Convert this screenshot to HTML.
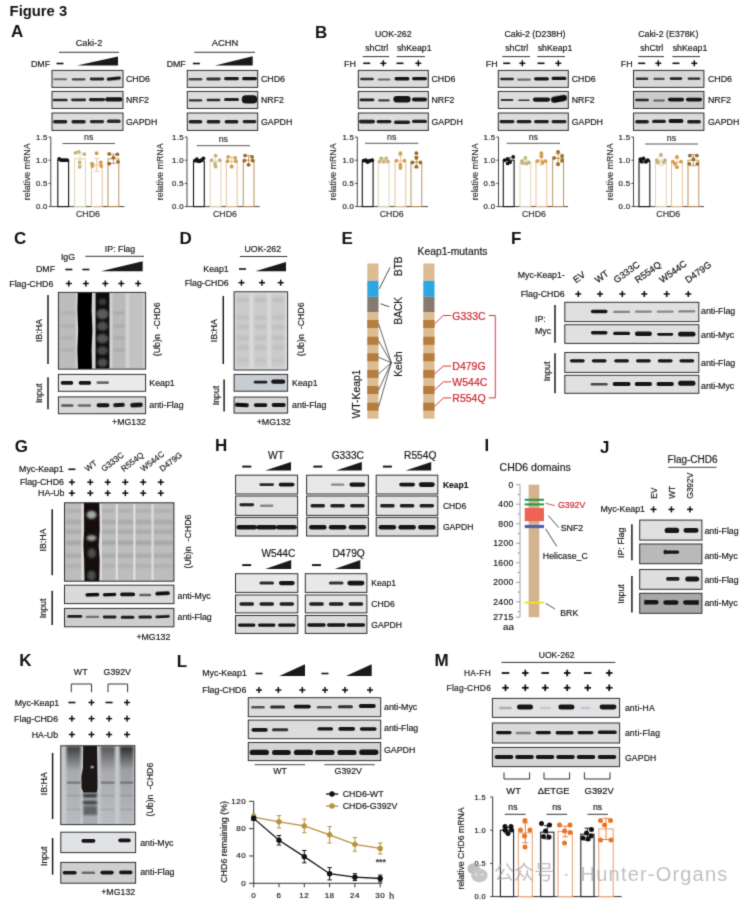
<!DOCTYPE html>
<html><head><meta charset="utf-8"><style>
html,body{margin:0;padding:0;background:#fff;}
body{width:750px;height:903px;overflow:hidden;}
svg{display:block;font-family:"Liberation Sans", Arial, sans-serif;}
</style></head><body>
<svg width="750" height="903" viewBox="0 0 750 903">
<defs>
<filter id="b1" x="-50%" y="-100%" width="200%" height="300%"><feGaussianBlur stdDeviation="0.7"/></filter>
<filter id="b2" x="-50%" y="-50%" width="200%" height="200%"><feGaussianBlur stdDeviation="1.3"/></filter>
<filter id="b3" x="-50%" y="-50%" width="200%" height="200%"><feGaussianBlur stdDeviation="2.2"/></filter>
<filter id="gb" x="0" y="0" width="750" height="903" filterUnits="userSpaceOnUse" color-interpolation-filters="sRGB"><feConvolveMatrix order="3" kernelMatrix="0.0192 0.1001 0.0192 0.1001 0.5228 0.1001 0.0192 0.1001 0.0192" divisor="1" edgeMode="duplicate"/></filter>
</defs>
<g filter="url(#gb)">
<rect width="750" height="903" fill="#fff"/>
<text x="9.6" y="16.4" font-size="14.8" font-weight="bold" fill="#111">Figure 3</text>
<text x="11.10" y="37.40" font-size="17" font-weight="bold" fill="#111">A</text>
<text x="315.10" y="38.10" font-size="17" font-weight="bold" fill="#111">B</text>
<text x="89.00" y="42.60" font-size="9.2" text-anchor="middle" dominant-baseline="central" fill="#181818" stroke="#181818" stroke-width="0.18">Caki-2</text>
<line x1="59.00" y1="52.30" x2="119.00" y2="52.30" stroke="#333" stroke-width="1"/>
<text x="31.00" y="63.50" font-size="8.8" text-anchor="start" dominant-baseline="central" fill="#181818" stroke="#181818" stroke-width="0.18">DMF</text>
<rect x="56.50" y="62.70" width="7.00" height="1.60" fill="#111"/>
<polygon points="77.00,65.60 118.00,65.60 118.00,56.60" fill="#1a1a1a"/>
<rect x="52.00" y="70.40" width="71.00" height="17.00" fill="#dcdcdc"/>
<g clip-path="none">
<rect x="53.30" y="78.30" width="13.80" height="2.00" rx="1.00" fill="#161616" opacity="0.55" filter="url(#b1)"/>
<rect x="71.70" y="78.15" width="13.80" height="2.30" rx="1.15" fill="#161616" opacity="0.75" filter="url(#b1)"/>
<rect x="89.81" y="77.60" width="14.37" height="2.80" rx="1.40" fill="#161616" opacity="0.90" filter="url(#b1)"/>
<rect x="106.61" y="77.00" width="14.37" height="3.20" rx="1.60" fill="#111" opacity="0.95" filter="url(#b1)" transform="rotate(-6 113.8 78.6)"/>
</g>
<rect x="52.00" y="70.40" width="71.00" height="17.00" fill="none" stroke="#2e2e2e" stroke-width="1"/>
<text x="126.00" y="78.90" font-size="8.8" text-anchor="start" dominant-baseline="central" fill="#181818" stroke="#181818" stroke-width="0.18">CHD6</text>
<rect x="52.00" y="91.40" width="71.00" height="17.10" fill="#dcdcdc"/>
<g clip-path="none">
<rect x="52.73" y="98.70" width="14.95" height="2.60" rx="1.30" fill="#161616" opacity="0.90" filter="url(#b1)"/>
<rect x="71.12" y="98.40" width="14.95" height="2.80" rx="1.40" fill="#161616" opacity="0.90" filter="url(#b1)"/>
<rect x="88.95" y="97.90" width="16.10" height="3.40" rx="1.70" fill="#161616" opacity="0.95" filter="url(#b1)"/>
<rect x="105.17" y="97.30" width="17.25" height="4.20" rx="2.10" fill="#161616" opacity="1.00" filter="url(#b1)"/>
</g>
<rect x="52.00" y="91.40" width="71.00" height="17.10" fill="none" stroke="#2e2e2e" stroke-width="1"/>
<text x="126.00" y="99.95" font-size="8.8" text-anchor="start" dominant-baseline="central" fill="#181818" stroke="#181818" stroke-width="0.18">NRF2</text>
<rect x="52.00" y="113.00" width="71.00" height="17.40" fill="#dcdcdc"/>
<g clip-path="none">
<rect x="53.01" y="120.00" width="14.37" height="3.60" rx="1.80" fill="#161616" opacity="0.95" filter="url(#b1)"/>
<rect x="71.41" y="120.00" width="14.37" height="3.60" rx="1.80" fill="#161616" opacity="0.95" filter="url(#b1)"/>
<rect x="89.81" y="119.90" width="14.37" height="3.40" rx="1.70" fill="#161616" opacity="0.90" filter="url(#b1)"/>
<rect x="106.90" y="119.60" width="13.80" height="3.40" rx="1.70" fill="#161616" opacity="0.90" filter="url(#b1)"/>
</g>
<rect x="52.00" y="113.00" width="71.00" height="17.40" fill="none" stroke="#2e2e2e" stroke-width="1"/>
<text x="126.00" y="121.70" font-size="8.8" text-anchor="start" dominant-baseline="central" fill="#181818" stroke="#181818" stroke-width="0.18">GAPDH</text>
<text x="225.00" y="42.60" font-size="9.4" text-anchor="middle" dominant-baseline="central" fill="#181818" stroke="#181818" stroke-width="0.18">ACHN</text>
<line x1="194.30" y1="52.30" x2="255.00" y2="52.30" stroke="#333" stroke-width="1"/>
<text x="166.70" y="63.50" font-size="8.8" text-anchor="start" dominant-baseline="central" fill="#181818" stroke="#181818" stroke-width="0.18">DMF</text>
<rect x="192.90" y="62.70" width="7.00" height="1.60" fill="#111"/>
<polygon points="215.00,65.60 252.70,65.60 252.70,56.20" fill="#1a1a1a"/>
<rect x="187.30" y="70.40" width="70.40" height="17.00" fill="#dcdcdc"/>
<g clip-path="none">
<rect x="188.60" y="78.10" width="13.80" height="2.40" rx="1.20" fill="#161616" opacity="0.75" filter="url(#b1)"/>
<rect x="206.31" y="77.60" width="14.37" height="2.80" rx="1.40" fill="#161616" opacity="0.85" filter="url(#b1)"/>
<rect x="224.03" y="77.00" width="14.95" height="3.20" rx="1.60" fill="#161616" opacity="0.95" filter="url(#b1)"/>
<rect x="242.03" y="76.90" width="14.95" height="3.40" rx="1.70" fill="#161616" opacity="1.00" filter="url(#b1)"/>
</g>
<rect x="187.30" y="70.40" width="70.40" height="17.00" fill="none" stroke="#2e2e2e" stroke-width="1"/>
<text x="261.00" y="78.90" font-size="8.8" text-anchor="start" dominant-baseline="central" fill="#181818" stroke="#181818" stroke-width="0.18">CHD6</text>
<rect x="187.30" y="91.40" width="70.40" height="17.10" fill="#dcdcdc"/>
<g clip-path="none">
<rect x="188.60" y="99.20" width="13.80" height="2.20" rx="1.10" fill="#161616" opacity="0.85" filter="url(#b1)"/>
<rect x="206.60" y="98.70" width="13.80" height="2.60" rx="1.30" fill="#161616" opacity="0.90" filter="url(#b1)"/>
<rect x="224.03" y="98.10" width="14.95" height="3.00" rx="1.50" fill="#161616" opacity="0.95" filter="url(#b1)"/>
<rect x="241.74" y="95.30" width="15.52" height="8.20" rx="4.10" fill="#161616" opacity="1.00" filter="url(#b1)"/>
</g>
<rect x="187.30" y="91.40" width="70.40" height="17.10" fill="none" stroke="#2e2e2e" stroke-width="1"/>
<text x="261.00" y="99.95" font-size="8.8" text-anchor="start" dominant-baseline="central" fill="#181818" stroke="#181818" stroke-width="0.18">NRF2</text>
<rect x="187.30" y="113.00" width="70.40" height="17.40" fill="#dcdcdc"/>
<g clip-path="none">
<rect x="188.60" y="120.00" width="13.80" height="3.60" rx="1.80" fill="#161616" opacity="0.95" filter="url(#b1)"/>
<rect x="206.60" y="120.10" width="13.80" height="3.40" rx="1.70" fill="#161616" opacity="0.95" filter="url(#b1)"/>
<rect x="224.60" y="120.10" width="13.80" height="3.40" rx="1.70" fill="#161616" opacity="0.95" filter="url(#b1)"/>
<rect x="242.60" y="119.90" width="13.80" height="3.40" rx="1.70" fill="#161616" opacity="0.95" filter="url(#b1)"/>
</g>
<rect x="187.30" y="113.00" width="70.40" height="17.40" fill="none" stroke="#2e2e2e" stroke-width="1"/>
<text x="261.00" y="121.70" font-size="8.8" text-anchor="start" dominant-baseline="central" fill="#181818" stroke="#181818" stroke-width="0.18">GAPDH</text>
<text x="393.30" y="33.50" font-size="8.8" text-anchor="middle" dominant-baseline="central" fill="#181818" stroke="#181818" stroke-width="0.18">UOK-262</text>
<text x="376.70" y="47.50" font-size="8.8" text-anchor="middle" dominant-baseline="central" fill="#181818" stroke="#181818" stroke-width="0.18">shCtrl</text>
<text x="414.30" y="47.50" font-size="8.8" text-anchor="middle" dominant-baseline="central" fill="#181818" stroke="#181818" stroke-width="0.18">shKeap1</text>
<line x1="362.70" y1="56.60" x2="389.30" y2="56.60" stroke="#333" stroke-width="1"/>
<line x1="396.70" y1="56.60" x2="425.00" y2="56.60" stroke="#333" stroke-width="1"/>
<text x="344.10" y="63.60" font-size="8.9" text-anchor="start" dominant-baseline="central" fill="#1a1a1a" stroke="#1a1a1a" stroke-width="0.18">FH</text>
<rect x="363.20" y="62.50" width="7.00" height="1.60" fill="#111"/>
<rect x="380.30" y="62.55" width="6.00" height="1.50" fill="#111"/>
<rect x="382.55" y="60.30" width="1.50" height="6.00" fill="#111"/>
<rect x="396.50" y="62.50" width="7.00" height="1.60" fill="#111"/>
<rect x="415.30" y="62.55" width="6.00" height="1.50" fill="#111"/>
<rect x="417.55" y="60.30" width="1.50" height="6.00" fill="#111"/>
<rect x="358.30" y="70.40" width="70.00" height="17.00" fill="#dcdcdc"/>
<g clip-path="none">
<rect x="360.10" y="77.70" width="13.80" height="2.60" rx="1.30" fill="#161616" opacity="0.85" filter="url(#b1)"/>
<rect x="377.68" y="78.60" width="12.65" height="2.00" rx="1.00" fill="#161616" opacity="0.60" filter="url(#b1)"/>
<rect x="394.52" y="77.10" width="14.95" height="3.40" rx="1.70" fill="#161616" opacity="1.00" filter="url(#b1)"/>
<rect x="412.02" y="77.00" width="14.95" height="3.20" rx="1.60" fill="#161616" opacity="1.00" filter="url(#b1)"/>
</g>
<rect x="358.30" y="70.40" width="70.00" height="17.00" fill="none" stroke="#2e2e2e" stroke-width="1"/>
<text x="431.50" y="78.90" font-size="8.8" text-anchor="start" dominant-baseline="central" fill="#181818" stroke="#181818" stroke-width="0.18">CHD6</text>
<rect x="358.30" y="91.40" width="70.00" height="17.10" fill="#dcdcdc"/>
<g clip-path="none">
<rect x="359.52" y="98.40" width="14.95" height="2.80" rx="1.40" fill="#161616" opacity="0.95" filter="url(#b1)"/>
<rect x="378.25" y="99.30" width="11.50" height="2.20" rx="1.10" fill="#161616" opacity="0.80" filter="url(#b1)"/>
<rect x="393.38" y="95.95" width="17.25" height="6.50" rx="3.25" fill="#161616" opacity="1.00" filter="url(#b1)"/>
<rect x="412.02" y="97.60" width="14.95" height="4.00" rx="2.00" fill="#161616" opacity="1.00" filter="url(#b1)"/>
</g>
<rect x="358.30" y="91.40" width="70.00" height="17.10" fill="none" stroke="#2e2e2e" stroke-width="1"/>
<text x="431.50" y="99.95" font-size="8.8" text-anchor="start" dominant-baseline="central" fill="#181818" stroke="#181818" stroke-width="0.18">NRF2</text>
<rect x="358.30" y="113.00" width="70.00" height="17.40" fill="#dcdcdc"/>
<g clip-path="none">
<rect x="358.95" y="119.80" width="16.10" height="3.60" rx="1.80" fill="#161616" opacity="0.95" filter="url(#b1)"/>
<rect x="376.52" y="119.90" width="14.95" height="3.40" rx="1.70" fill="#161616" opacity="0.95" filter="url(#b1)"/>
<rect x="393.95" y="120.40" width="16.10" height="3.60" rx="1.80" fill="#161616" opacity="0.95" filter="url(#b1)"/>
<rect x="412.02" y="119.80" width="14.95" height="3.20" rx="1.60" fill="#161616" opacity="0.95" filter="url(#b1)"/>
</g>
<rect x="358.30" y="113.00" width="70.00" height="17.40" fill="none" stroke="#2e2e2e" stroke-width="1"/>
<text x="431.50" y="121.70" font-size="8.8" text-anchor="start" dominant-baseline="central" fill="#181818" stroke="#181818" stroke-width="0.18">GAPDH</text>
<text x="535.00" y="33.50" font-size="8.8" text-anchor="middle" dominant-baseline="central" fill="#181818" stroke="#181818" stroke-width="0.18">Caki-2 (D238H)</text>
<text x="516.70" y="47.50" font-size="8.8" text-anchor="middle" dominant-baseline="central" fill="#181818" stroke="#181818" stroke-width="0.18">shCtrl</text>
<text x="555.00" y="47.50" font-size="8.8" text-anchor="middle" dominant-baseline="central" fill="#181818" stroke="#181818" stroke-width="0.18">shKeap1</text>
<line x1="502.30" y1="56.60" x2="530.00" y2="56.60" stroke="#333" stroke-width="1"/>
<line x1="537.30" y1="56.60" x2="565.00" y2="56.60" stroke="#333" stroke-width="1"/>
<text x="485.80" y="63.60" font-size="8.9" text-anchor="start" dominant-baseline="central" fill="#1a1a1a" stroke="#1a1a1a" stroke-width="0.18">FH</text>
<rect x="503.20" y="62.50" width="7.00" height="1.60" fill="#111"/>
<rect x="519.30" y="62.55" width="6.00" height="1.50" fill="#111"/>
<rect x="521.55" y="60.30" width="1.50" height="6.00" fill="#111"/>
<rect x="537.50" y="62.50" width="7.00" height="1.60" fill="#111"/>
<rect x="555.30" y="62.55" width="6.00" height="1.50" fill="#111"/>
<rect x="557.55" y="60.30" width="1.50" height="6.00" fill="#111"/>
<rect x="498.30" y="70.40" width="70.00" height="17.00" fill="#dcdcdc"/>
<g clip-path="none">
<rect x="500.10" y="77.70" width="13.80" height="2.60" rx="1.30" fill="#161616" opacity="0.90" filter="url(#b1)"/>
<rect x="517.10" y="78.50" width="13.80" height="2.20" rx="1.10" fill="#161616" opacity="0.55" filter="url(#b1)"/>
<rect x="534.02" y="77.20" width="14.95" height="3.20" rx="1.60" fill="#161616" opacity="1.00" filter="url(#b1)"/>
<rect x="551.52" y="76.80" width="14.95" height="3.20" rx="1.60" fill="#161616" opacity="1.00" filter="url(#b1)"/>
</g>
<rect x="498.30" y="70.40" width="70.00" height="17.00" fill="none" stroke="#2e2e2e" stroke-width="1"/>
<text x="571.70" y="78.90" font-size="8.8" text-anchor="start" dominant-baseline="central" fill="#181818" stroke="#181818" stroke-width="0.18">CHD6</text>
<rect x="498.30" y="91.40" width="70.00" height="17.10" fill="#dcdcdc"/>
<g clip-path="none">
<rect x="500.68" y="99.10" width="12.65" height="1.80" rx="0.90" fill="#161616" opacity="0.85" filter="url(#b1)"/>
<rect x="518.25" y="99.40" width="11.50" height="1.60" rx="0.80" fill="#161616" opacity="0.85" filter="url(#b1)"/>
<rect x="532.88" y="97.50" width="17.25" height="4.20" rx="2.10" fill="#161616" opacity="1.00" filter="url(#b1)"/>
<rect x="550.95" y="95.70" width="16.10" height="6.20" rx="3.10" fill="#111" opacity="1.00" filter="url(#b1)" transform="rotate(-10 559 98.8)"/>
</g>
<rect x="498.30" y="91.40" width="70.00" height="17.10" fill="none" stroke="#2e2e2e" stroke-width="1"/>
<text x="571.70" y="99.95" font-size="8.8" text-anchor="start" dominant-baseline="central" fill="#181818" stroke="#181818" stroke-width="0.18">NRF2</text>
<rect x="498.30" y="113.00" width="70.00" height="17.40" fill="#dcdcdc"/>
<g clip-path="none">
<rect x="499.52" y="119.90" width="14.95" height="3.40" rx="1.70" fill="#161616" opacity="0.95" filter="url(#b1)"/>
<rect x="516.52" y="120.00" width="14.95" height="3.20" rx="1.60" fill="#161616" opacity="0.95" filter="url(#b1)"/>
<rect x="534.02" y="120.00" width="14.95" height="3.20" rx="1.60" fill="#161616" opacity="0.95" filter="url(#b1)"/>
<rect x="551.52" y="120.00" width="14.95" height="3.20" rx="1.60" fill="#161616" opacity="0.95" filter="url(#b1)"/>
</g>
<rect x="498.30" y="113.00" width="70.00" height="17.40" fill="none" stroke="#2e2e2e" stroke-width="1"/>
<text x="571.70" y="121.70" font-size="8.8" text-anchor="start" dominant-baseline="central" fill="#181818" stroke="#181818" stroke-width="0.18">GAPDH</text>
<text x="668.30" y="33.50" font-size="8.8" text-anchor="middle" dominant-baseline="central" fill="#181818" stroke="#181818" stroke-width="0.18">Caki-2 (E378K)</text>
<text x="651.70" y="47.50" font-size="8.8" text-anchor="middle" dominant-baseline="central" fill="#181818" stroke="#181818" stroke-width="0.18">shCtrl</text>
<text x="690.00" y="47.50" font-size="8.8" text-anchor="middle" dominant-baseline="central" fill="#181818" stroke="#181818" stroke-width="0.18">shKeap1</text>
<line x1="638.30" y1="56.60" x2="664.00" y2="56.60" stroke="#333" stroke-width="1"/>
<line x1="672.30" y1="56.60" x2="700.00" y2="56.60" stroke="#333" stroke-width="1"/>
<text x="620.80" y="63.60" font-size="8.9" text-anchor="start" dominant-baseline="central" fill="#1a1a1a" stroke="#1a1a1a" stroke-width="0.18">FH</text>
<rect x="638.20" y="62.50" width="7.00" height="1.60" fill="#111"/>
<rect x="655.30" y="62.55" width="6.00" height="1.50" fill="#111"/>
<rect x="657.55" y="60.30" width="1.50" height="6.00" fill="#111"/>
<rect x="672.50" y="62.50" width="7.00" height="1.60" fill="#111"/>
<rect x="691.30" y="62.55" width="6.00" height="1.50" fill="#111"/>
<rect x="693.55" y="60.30" width="1.50" height="6.00" fill="#111"/>
<rect x="633.50" y="70.40" width="70.40" height="17.00" fill="#d8d8d8"/>
<g clip-path="none">
<rect x="635.67" y="77.50" width="12.65" height="2.60" rx="1.30" fill="#161616" opacity="0.85" filter="url(#b1)"/>
<rect x="653.25" y="77.70" width="11.50" height="2.20" rx="1.10" fill="#161616" opacity="0.70" filter="url(#b1)"/>
<rect x="669.67" y="77.20" width="12.65" height="2.80" rx="1.40" fill="#161616" opacity="0.90" filter="url(#b1)"/>
<rect x="687.67" y="77.40" width="12.65" height="2.40" rx="1.20" fill="#161616" opacity="0.90" filter="url(#b1)"/>
</g>
<rect x="633.50" y="70.40" width="70.40" height="17.00" fill="none" stroke="#2e2e2e" stroke-width="1"/>
<text x="708.00" y="78.90" font-size="8.8" text-anchor="start" dominant-baseline="central" fill="#181818" stroke="#181818" stroke-width="0.18">CHD6</text>
<rect x="633.50" y="91.40" width="70.40" height="17.10" fill="#cbcbcb"/>
<g clip-path="none">
<rect x="635.10" y="98.70" width="13.80" height="2.60" rx="1.30" fill="#161616" opacity="0.90" filter="url(#b1)"/>
<rect x="653.25" y="99.40" width="11.50" height="2.00" rx="1.00" fill="#161616" opacity="0.60" filter="url(#b1)"/>
<rect x="667.95" y="97.80" width="16.10" height="3.60" rx="1.80" fill="#161616" opacity="1.00" filter="url(#b1)"/>
<rect x="685.95" y="97.80" width="16.10" height="3.60" rx="1.80" fill="#161616" opacity="1.00" filter="url(#b1)"/>
</g>
<rect x="633.50" y="91.40" width="70.40" height="17.10" fill="none" stroke="#2e2e2e" stroke-width="1"/>
<text x="708.00" y="99.95" font-size="8.8" text-anchor="start" dominant-baseline="central" fill="#181818" stroke="#181818" stroke-width="0.18">NRF2</text>
<rect x="633.50" y="113.00" width="70.40" height="17.40" fill="#dadada"/>
<g clip-path="none">
<rect x="635.10" y="120.10" width="13.80" height="3.40" rx="1.70" fill="#161616" opacity="0.95" filter="url(#b1)"/>
<rect x="652.10" y="119.70" width="13.80" height="3.40" rx="1.70" fill="#161616" opacity="0.95" filter="url(#b1)"/>
<rect x="668.52" y="119.00" width="14.95" height="4.00" rx="2.00" fill="#161616" opacity="1.00" filter="url(#b1)"/>
<rect x="687.10" y="120.10" width="13.80" height="3.40" rx="1.70" fill="#161616" opacity="0.95" filter="url(#b1)"/>
</g>
<rect x="633.50" y="113.00" width="70.40" height="17.40" fill="none" stroke="#2e2e2e" stroke-width="1"/>
<text x="708.00" y="121.70" font-size="8.8" text-anchor="start" dominant-baseline="central" fill="#181818" stroke="#181818" stroke-width="0.18">GAPDH</text>
<line x1="50.80" y1="137.00" x2="50.80" y2="206.60" stroke="#333" stroke-width="0.9"/>
<line x1="50.80" y1="206.60" x2="124.40" y2="206.60" stroke="#333" stroke-width="0.9"/>
<line x1="48.60" y1="137.00" x2="50.80" y2="137.00" stroke="#333" stroke-width="0.9"/>
<text x="47.80" y="137.00" font-size="7.8" text-anchor="end" dominant-baseline="central" fill="#1e1e1e" stroke="#1e1e1e" stroke-width="0.18" letter-spacing="0.35">1.5</text>
<line x1="48.60" y1="160.20" x2="50.80" y2="160.20" stroke="#333" stroke-width="0.9"/>
<text x="47.80" y="160.20" font-size="7.8" text-anchor="end" dominant-baseline="central" fill="#1e1e1e" stroke="#1e1e1e" stroke-width="0.18" letter-spacing="0.35">1.0</text>
<line x1="48.60" y1="183.40" x2="50.80" y2="183.40" stroke="#333" stroke-width="0.9"/>
<text x="47.80" y="183.40" font-size="7.8" text-anchor="end" dominant-baseline="central" fill="#1e1e1e" stroke="#1e1e1e" stroke-width="0.18" letter-spacing="0.35">0.5</text>
<line x1="48.60" y1="206.60" x2="50.80" y2="206.60" stroke="#333" stroke-width="0.9"/>
<text x="47.80" y="206.60" font-size="7.8" text-anchor="end" dominant-baseline="central" fill="#1e1e1e" stroke="#1e1e1e" stroke-width="0.18" letter-spacing="0.35">0.0</text>
<text x="26.60" y="171.80" font-size="8.8" text-anchor="middle" dominant-baseline="central" fill="#333" stroke="#333" stroke-width="0.18" transform="rotate(-90 26.6 171.8)">relative mRNA</text>
<rect x="57.80" y="160.20" width="10.80" height="46.40" fill="#fff" stroke="#111" stroke-width="1.1"/>
<line x1="63.20" y1="159.27" x2="63.20" y2="161.13" stroke="#111" stroke-width="0.8"/>
<line x1="60.70" y1="159.27" x2="65.70" y2="159.27" stroke="#111" stroke-width="0.8"/>
<line x1="60.70" y1="161.13" x2="65.70" y2="161.13" stroke="#111" stroke-width="0.8"/>
<circle cx="59.20" cy="158.81" r="1.9" fill="#111"/>
<circle cx="61.20" cy="160.20" r="1.9" fill="#111"/>
<circle cx="63.20" cy="160.20" r="1.9" fill="#111"/>
<circle cx="65.20" cy="160.20" r="1.9" fill="#111"/>
<circle cx="67.20" cy="160.20" r="1.9" fill="#111"/>
<rect x="74.60" y="158.81" width="10.80" height="47.79" fill="#fff" stroke="#d9d1ae" stroke-width="0.9"/>
<line x1="80.00" y1="152.78" x2="80.00" y2="164.84" stroke="#d9d1ae" stroke-width="0.8"/>
<line x1="77.50" y1="152.78" x2="82.50" y2="152.78" stroke="#d9d1ae" stroke-width="0.8"/>
<line x1="77.50" y1="164.84" x2="82.50" y2="164.84" stroke="#d9d1ae" stroke-width="0.8"/>
<circle cx="75.40" cy="152.78" r="1.9" fill="#c2b47c"/>
<circle cx="78.70" cy="151.85" r="1.9" fill="#c2b47c"/>
<circle cx="84.30" cy="154.17" r="1.9" fill="#c2b47c"/>
<circle cx="79.60" cy="162.29" r="1.9" fill="#c2b47c"/>
<circle cx="79.60" cy="166.88" r="1.9" fill="#c2b47c"/>
<rect x="91.40" y="164.84" width="10.80" height="41.76" fill="#fff" stroke="#e2b98a" stroke-width="0.9"/>
<line x1="96.80" y1="158.34" x2="96.80" y2="171.34" stroke="#e2b98a" stroke-width="0.8"/>
<line x1="94.30" y1="158.34" x2="99.30" y2="158.34" stroke="#e2b98a" stroke-width="0.8"/>
<line x1="94.30" y1="171.34" x2="99.30" y2="171.34" stroke="#e2b98a" stroke-width="0.8"/>
<circle cx="96.60" cy="153.24" r="1.9" fill="#d59c4c"/>
<circle cx="92.00" cy="163.68" r="1.9" fill="#d59c4c"/>
<circle cx="100.80" cy="162.29" r="1.9" fill="#d59c4c"/>
<circle cx="92.40" cy="166.00" r="1.9" fill="#d59c4c"/>
<circle cx="101.20" cy="166.00" r="1.9" fill="#d59c4c"/>
<rect x="108.00" y="158.81" width="10.80" height="47.79" fill="#fff" stroke="#b08850" stroke-width="0.9"/>
<line x1="113.40" y1="154.17" x2="113.40" y2="163.45" stroke="#b08850" stroke-width="0.8"/>
<line x1="110.90" y1="154.17" x2="115.90" y2="154.17" stroke="#b08850" stroke-width="0.8"/>
<line x1="110.90" y1="163.45" x2="115.90" y2="163.45" stroke="#b08850" stroke-width="0.8"/>
<circle cx="109.20" cy="153.94" r="1.9" fill="#9c6a26"/>
<circle cx="117.40" cy="154.31" r="1.9" fill="#9c6a26"/>
<circle cx="113.40" cy="157.60" r="1.9" fill="#9c6a26"/>
<circle cx="109.20" cy="163.68" r="1.9" fill="#9c6a26"/>
<circle cx="118.00" cy="161.82" r="1.9" fill="#9c6a26"/>
<text x="88.75" y="137.00" font-size="8.8" text-anchor="middle" dominant-baseline="central" fill="#333" stroke="#333" stroke-width="0.18">ns</text>
<line x1="62.50" y1="143.50" x2="115.00" y2="143.50" stroke="#444" stroke-width="0.9"/>
<text x="88.00" y="214.00" font-size="8.8" text-anchor="middle" dominant-baseline="central" fill="#333" stroke="#333" stroke-width="0.18">CHD6</text>
<line x1="187.00" y1="137.00" x2="187.00" y2="206.60" stroke="#333" stroke-width="0.9"/>
<line x1="187.00" y1="206.60" x2="259.70" y2="206.60" stroke="#333" stroke-width="0.9"/>
<line x1="184.80" y1="137.00" x2="187.00" y2="137.00" stroke="#333" stroke-width="0.9"/>
<text x="184.00" y="137.00" font-size="7.8" text-anchor="end" dominant-baseline="central" fill="#1e1e1e" stroke="#1e1e1e" stroke-width="0.18" letter-spacing="0.35">1.5</text>
<line x1="184.80" y1="160.20" x2="187.00" y2="160.20" stroke="#333" stroke-width="0.9"/>
<text x="184.00" y="160.20" font-size="7.8" text-anchor="end" dominant-baseline="central" fill="#1e1e1e" stroke="#1e1e1e" stroke-width="0.18" letter-spacing="0.35">1.0</text>
<line x1="184.80" y1="183.40" x2="187.00" y2="183.40" stroke="#333" stroke-width="0.9"/>
<text x="184.00" y="183.40" font-size="7.8" text-anchor="end" dominant-baseline="central" fill="#1e1e1e" stroke="#1e1e1e" stroke-width="0.18" letter-spacing="0.35">0.5</text>
<line x1="184.80" y1="206.60" x2="187.00" y2="206.60" stroke="#333" stroke-width="0.9"/>
<text x="184.00" y="206.60" font-size="7.8" text-anchor="end" dominant-baseline="central" fill="#1e1e1e" stroke="#1e1e1e" stroke-width="0.18" letter-spacing="0.35">0.0</text>
<text x="160.00" y="171.80" font-size="8.8" text-anchor="middle" dominant-baseline="central" fill="#333" stroke="#333" stroke-width="0.18" transform="rotate(-90 160 171.8)">relative mRNA</text>
<rect x="193.50" y="161.13" width="10.80" height="45.47" fill="#fff" stroke="#111" stroke-width="1.1"/>
<line x1="198.90" y1="159.74" x2="198.90" y2="162.52" stroke="#111" stroke-width="0.8"/>
<line x1="196.40" y1="159.74" x2="201.40" y2="159.74" stroke="#111" stroke-width="0.8"/>
<line x1="196.40" y1="162.52" x2="201.40" y2="162.52" stroke="#111" stroke-width="0.8"/>
<circle cx="194.90" cy="160.66" r="1.9" fill="#111"/>
<circle cx="196.90" cy="159.27" r="1.9" fill="#111"/>
<circle cx="198.90" cy="161.13" r="1.9" fill="#111"/>
<circle cx="201.40" cy="160.20" r="1.9" fill="#111"/>
<circle cx="203.40" cy="158.34" r="1.9" fill="#111"/>
<rect x="210.20" y="161.59" width="10.80" height="45.01" fill="#fff" stroke="#d9d1ae" stroke-width="0.9"/>
<line x1="215.60" y1="156.95" x2="215.60" y2="166.23" stroke="#d9d1ae" stroke-width="0.8"/>
<line x1="213.10" y1="156.95" x2="218.10" y2="156.95" stroke="#d9d1ae" stroke-width="0.8"/>
<line x1="213.10" y1="166.23" x2="218.10" y2="166.23" stroke="#d9d1ae" stroke-width="0.8"/>
<circle cx="215.60" cy="155.56" r="1.9" fill="#c2b47c"/>
<circle cx="211.60" cy="160.20" r="1.9" fill="#c2b47c"/>
<circle cx="219.80" cy="160.20" r="1.9" fill="#c2b47c"/>
<circle cx="215.10" cy="163.91" r="1.9" fill="#c2b47c"/>
<circle cx="215.60" cy="166.70" r="1.9" fill="#c2b47c"/>
<rect x="226.30" y="161.59" width="10.80" height="45.01" fill="#fff" stroke="#e2b98a" stroke-width="0.9"/>
<line x1="231.70" y1="156.95" x2="231.70" y2="166.23" stroke="#e2b98a" stroke-width="0.8"/>
<line x1="229.20" y1="156.95" x2="234.20" y2="156.95" stroke="#e2b98a" stroke-width="0.8"/>
<line x1="229.20" y1="166.23" x2="234.20" y2="166.23" stroke="#e2b98a" stroke-width="0.8"/>
<circle cx="228.20" cy="156.95" r="1.9" fill="#d59c4c"/>
<circle cx="235.20" cy="157.88" r="1.9" fill="#d59c4c"/>
<circle cx="227.50" cy="161.13" r="1.9" fill="#d59c4c"/>
<circle cx="235.90" cy="161.13" r="1.9" fill="#d59c4c"/>
<circle cx="231.70" cy="166.70" r="1.9" fill="#d59c4c"/>
<rect x="243.20" y="160.20" width="10.80" height="46.40" fill="#fff" stroke="#b08850" stroke-width="0.9"/>
<line x1="248.60" y1="155.56" x2="248.60" y2="164.84" stroke="#b08850" stroke-width="0.8"/>
<line x1="246.10" y1="155.56" x2="251.10" y2="155.56" stroke="#b08850" stroke-width="0.8"/>
<line x1="246.10" y1="164.84" x2="251.10" y2="164.84" stroke="#b08850" stroke-width="0.8"/>
<circle cx="245.10" cy="155.56" r="1.9" fill="#9c6a26"/>
<circle cx="252.10" cy="156.95" r="1.9" fill="#9c6a26"/>
<circle cx="244.40" cy="160.66" r="1.9" fill="#9c6a26"/>
<circle cx="252.80" cy="160.66" r="1.9" fill="#9c6a26"/>
<circle cx="248.60" cy="164.84" r="1.9" fill="#9c6a26"/>
<text x="223.35" y="139.20" font-size="8.8" text-anchor="middle" dominant-baseline="central" fill="#333" stroke="#333" stroke-width="0.18">ns</text>
<line x1="196.70" y1="145.70" x2="250.00" y2="145.70" stroke="#444" stroke-width="0.9"/>
<text x="225.00" y="214.00" font-size="8.8" text-anchor="middle" dominant-baseline="central" fill="#333" stroke="#333" stroke-width="0.18">CHD6</text>
<line x1="357.30" y1="137.00" x2="357.30" y2="206.60" stroke="#333" stroke-width="0.9"/>
<line x1="357.30" y1="206.60" x2="428.00" y2="206.60" stroke="#333" stroke-width="0.9"/>
<line x1="355.10" y1="137.00" x2="357.30" y2="137.00" stroke="#333" stroke-width="0.9"/>
<text x="354.30" y="137.00" font-size="7.8" text-anchor="end" dominant-baseline="central" fill="#1e1e1e" stroke="#1e1e1e" stroke-width="0.18" letter-spacing="0.35">1.5</text>
<line x1="355.10" y1="160.20" x2="357.30" y2="160.20" stroke="#333" stroke-width="0.9"/>
<text x="354.30" y="160.20" font-size="7.8" text-anchor="end" dominant-baseline="central" fill="#1e1e1e" stroke="#1e1e1e" stroke-width="0.18" letter-spacing="0.35">1.0</text>
<line x1="355.10" y1="183.40" x2="357.30" y2="183.40" stroke="#333" stroke-width="0.9"/>
<text x="354.30" y="183.40" font-size="7.8" text-anchor="end" dominant-baseline="central" fill="#1e1e1e" stroke="#1e1e1e" stroke-width="0.18" letter-spacing="0.35">0.5</text>
<line x1="355.10" y1="206.60" x2="357.30" y2="206.60" stroke="#333" stroke-width="0.9"/>
<text x="354.30" y="206.60" font-size="7.8" text-anchor="end" dominant-baseline="central" fill="#1e1e1e" stroke="#1e1e1e" stroke-width="0.18" letter-spacing="0.35">0.0</text>
<text x="333.00" y="171.80" font-size="8.8" text-anchor="middle" dominant-baseline="central" fill="#333" stroke="#333" stroke-width="0.18" transform="rotate(-90 333 171.8)">relative mRNA</text>
<rect x="362.30" y="161.13" width="10.80" height="45.47" fill="#fff" stroke="#111" stroke-width="1.1"/>
<line x1="367.70" y1="159.74" x2="367.70" y2="162.52" stroke="#111" stroke-width="0.8"/>
<line x1="365.20" y1="159.74" x2="370.20" y2="159.74" stroke="#111" stroke-width="0.8"/>
<line x1="365.20" y1="162.52" x2="370.20" y2="162.52" stroke="#111" stroke-width="0.8"/>
<circle cx="363.70" cy="160.66" r="1.9" fill="#111"/>
<circle cx="365.70" cy="160.20" r="1.9" fill="#111"/>
<circle cx="367.70" cy="162.06" r="1.9" fill="#111"/>
<circle cx="370.20" cy="160.66" r="1.9" fill="#111"/>
<circle cx="372.20" cy="160.20" r="1.9" fill="#111"/>
<rect x="378.30" y="160.66" width="10.80" height="45.94" fill="#fff" stroke="#d9d1ae" stroke-width="0.9"/>
<line x1="383.70" y1="158.34" x2="383.70" y2="162.98" stroke="#d9d1ae" stroke-width="0.8"/>
<line x1="381.20" y1="158.34" x2="386.20" y2="158.34" stroke="#d9d1ae" stroke-width="0.8"/>
<line x1="381.20" y1="162.98" x2="386.20" y2="162.98" stroke="#d9d1ae" stroke-width="0.8"/>
<circle cx="381.20" cy="158.34" r="1.9" fill="#c2b47c"/>
<circle cx="386.20" cy="158.34" r="1.9" fill="#c2b47c"/>
<circle cx="379.50" cy="161.59" r="1.9" fill="#c2b47c"/>
<circle cx="387.90" cy="161.59" r="1.9" fill="#c2b47c"/>
<circle cx="383.70" cy="161.59" r="1.9" fill="#c2b47c"/>
<rect x="395.00" y="161.13" width="10.80" height="45.47" fill="#fff" stroke="#e2b98a" stroke-width="0.9"/>
<line x1="400.40" y1="155.56" x2="400.40" y2="166.70" stroke="#e2b98a" stroke-width="0.8"/>
<line x1="397.90" y1="155.56" x2="402.90" y2="155.56" stroke="#e2b98a" stroke-width="0.8"/>
<line x1="397.90" y1="166.70" x2="402.90" y2="166.70" stroke="#e2b98a" stroke-width="0.8"/>
<circle cx="400.40" cy="153.24" r="1.9" fill="#d59c4c"/>
<circle cx="396.40" cy="160.66" r="1.9" fill="#d59c4c"/>
<circle cx="404.40" cy="160.66" r="1.9" fill="#d59c4c"/>
<circle cx="400.40" cy="164.84" r="1.9" fill="#d59c4c"/>
<circle cx="400.40" cy="168.09" r="1.9" fill="#d59c4c"/>
<rect x="411.00" y="162.06" width="10.80" height="44.54" fill="#fff" stroke="#b08850" stroke-width="0.9"/>
<line x1="416.40" y1="156.49" x2="416.40" y2="167.62" stroke="#b08850" stroke-width="0.8"/>
<line x1="413.90" y1="156.49" x2="418.90" y2="156.49" stroke="#b08850" stroke-width="0.8"/>
<line x1="413.90" y1="167.62" x2="418.90" y2="167.62" stroke="#b08850" stroke-width="0.8"/>
<circle cx="416.40" cy="153.24" r="1.9" fill="#9c6a26"/>
<circle cx="416.40" cy="157.88" r="1.9" fill="#9c6a26"/>
<circle cx="412.40" cy="162.52" r="1.9" fill="#9c6a26"/>
<circle cx="420.40" cy="162.52" r="1.9" fill="#9c6a26"/>
<circle cx="416.40" cy="166.70" r="1.9" fill="#9c6a26"/>
<text x="391.65" y="136.80" font-size="8.8" text-anchor="middle" dominant-baseline="central" fill="#333" stroke="#333" stroke-width="0.18">ns</text>
<line x1="365.00" y1="143.30" x2="418.30" y2="143.30" stroke="#444" stroke-width="0.9"/>
<text x="391.70" y="214.00" font-size="8.8" text-anchor="middle" dominant-baseline="central" fill="#333" stroke="#333" stroke-width="0.18">CHD6</text>
<line x1="498.50" y1="137.00" x2="498.50" y2="206.60" stroke="#333" stroke-width="0.9"/>
<line x1="498.50" y1="206.60" x2="568.00" y2="206.60" stroke="#333" stroke-width="0.9"/>
<line x1="496.30" y1="137.00" x2="498.50" y2="137.00" stroke="#333" stroke-width="0.9"/>
<text x="495.50" y="137.00" font-size="7.8" text-anchor="end" dominant-baseline="central" fill="#1e1e1e" stroke="#1e1e1e" stroke-width="0.18" letter-spacing="0.35">1.5</text>
<line x1="496.30" y1="160.20" x2="498.50" y2="160.20" stroke="#333" stroke-width="0.9"/>
<text x="495.50" y="160.20" font-size="7.8" text-anchor="end" dominant-baseline="central" fill="#1e1e1e" stroke="#1e1e1e" stroke-width="0.18" letter-spacing="0.35">1.0</text>
<line x1="496.30" y1="183.40" x2="498.50" y2="183.40" stroke="#333" stroke-width="0.9"/>
<text x="495.50" y="183.40" font-size="7.8" text-anchor="end" dominant-baseline="central" fill="#1e1e1e" stroke="#1e1e1e" stroke-width="0.18" letter-spacing="0.35">0.5</text>
<line x1="496.30" y1="206.60" x2="498.50" y2="206.60" stroke="#333" stroke-width="0.9"/>
<text x="495.50" y="206.60" font-size="7.8" text-anchor="end" dominant-baseline="central" fill="#1e1e1e" stroke="#1e1e1e" stroke-width="0.18" letter-spacing="0.35">0.0</text>
<text x="475.00" y="171.80" font-size="8.8" text-anchor="middle" dominant-baseline="central" fill="#333" stroke="#333" stroke-width="0.18" transform="rotate(-90 475 171.8)">relative mRNA</text>
<rect x="503.30" y="160.20" width="10.80" height="46.40" fill="#fff" stroke="#111" stroke-width="1.1"/>
<line x1="508.70" y1="157.88" x2="508.70" y2="162.52" stroke="#111" stroke-width="0.8"/>
<line x1="506.20" y1="157.88" x2="511.20" y2="157.88" stroke="#111" stroke-width="0.8"/>
<line x1="506.20" y1="162.52" x2="511.20" y2="162.52" stroke="#111" stroke-width="0.8"/>
<circle cx="504.70" cy="160.20" r="1.9" fill="#111"/>
<circle cx="513.20" cy="156.95" r="1.9" fill="#111"/>
<circle cx="507.70" cy="159.27" r="1.9" fill="#111"/>
<circle cx="510.20" cy="162.06" r="1.9" fill="#111"/>
<circle cx="507.70" cy="163.45" r="1.9" fill="#111"/>
<rect x="520.00" y="162.52" width="10.80" height="44.08" fill="#fff" stroke="#d9d1ae" stroke-width="0.9"/>
<line x1="525.40" y1="160.20" x2="525.40" y2="164.84" stroke="#d9d1ae" stroke-width="0.8"/>
<line x1="522.90" y1="160.20" x2="527.90" y2="160.20" stroke="#d9d1ae" stroke-width="0.8"/>
<line x1="522.90" y1="164.84" x2="527.90" y2="164.84" stroke="#d9d1ae" stroke-width="0.8"/>
<circle cx="525.40" cy="157.88" r="1.9" fill="#c2b47c"/>
<circle cx="521.90" cy="161.13" r="1.9" fill="#c2b47c"/>
<circle cx="528.90" cy="162.52" r="1.9" fill="#c2b47c"/>
<circle cx="522.40" cy="162.98" r="1.9" fill="#c2b47c"/>
<circle cx="526.40" cy="163.45" r="1.9" fill="#c2b47c"/>
<rect x="536.00" y="160.20" width="10.80" height="46.40" fill="#fff" stroke="#e2b98a" stroke-width="0.9"/>
<line x1="541.40" y1="155.56" x2="541.40" y2="164.84" stroke="#e2b98a" stroke-width="0.8"/>
<line x1="538.90" y1="155.56" x2="543.90" y2="155.56" stroke="#e2b98a" stroke-width="0.8"/>
<line x1="538.90" y1="164.84" x2="543.90" y2="164.84" stroke="#e2b98a" stroke-width="0.8"/>
<circle cx="541.40" cy="153.24" r="1.9" fill="#d59c4c"/>
<circle cx="541.40" cy="156.49" r="1.9" fill="#d59c4c"/>
<circle cx="537.40" cy="161.13" r="1.9" fill="#d59c4c"/>
<circle cx="545.40" cy="161.13" r="1.9" fill="#d59c4c"/>
<circle cx="542.40" cy="162.52" r="1.9" fill="#d59c4c"/>
<rect x="552.70" y="158.34" width="10.80" height="48.26" fill="#fff" stroke="#b08850" stroke-width="0.9"/>
<line x1="558.10" y1="153.70" x2="558.10" y2="162.98" stroke="#b08850" stroke-width="0.8"/>
<line x1="555.60" y1="153.70" x2="560.60" y2="153.70" stroke="#b08850" stroke-width="0.8"/>
<line x1="555.60" y1="162.98" x2="560.60" y2="162.98" stroke="#b08850" stroke-width="0.8"/>
<circle cx="558.10" cy="151.85" r="1.9" fill="#9c6a26"/>
<circle cx="554.10" cy="157.88" r="1.9" fill="#9c6a26"/>
<circle cx="562.10" cy="156.02" r="1.9" fill="#9c6a26"/>
<circle cx="562.10" cy="160.66" r="1.9" fill="#9c6a26"/>
<circle cx="558.10" cy="164.38" r="1.9" fill="#9c6a26"/>
<text x="533.35" y="136.80" font-size="8.8" text-anchor="middle" dominant-baseline="central" fill="#333" stroke="#333" stroke-width="0.18">ns</text>
<line x1="506.70" y1="143.30" x2="560.00" y2="143.30" stroke="#444" stroke-width="0.9"/>
<text x="534.00" y="214.00" font-size="8.8" text-anchor="middle" dominant-baseline="central" fill="#333" stroke="#333" stroke-width="0.18">CHD6</text>
<line x1="633.50" y1="137.00" x2="633.50" y2="206.60" stroke="#333" stroke-width="0.9"/>
<line x1="633.50" y1="206.60" x2="704.00" y2="206.60" stroke="#333" stroke-width="0.9"/>
<line x1="631.30" y1="137.00" x2="633.50" y2="137.00" stroke="#333" stroke-width="0.9"/>
<text x="630.50" y="137.00" font-size="7.8" text-anchor="end" dominant-baseline="central" fill="#1e1e1e" stroke="#1e1e1e" stroke-width="0.18" letter-spacing="0.35">1.5</text>
<line x1="631.30" y1="160.20" x2="633.50" y2="160.20" stroke="#333" stroke-width="0.9"/>
<text x="630.50" y="160.20" font-size="7.8" text-anchor="end" dominant-baseline="central" fill="#1e1e1e" stroke="#1e1e1e" stroke-width="0.18" letter-spacing="0.35">1.0</text>
<line x1="631.30" y1="183.40" x2="633.50" y2="183.40" stroke="#333" stroke-width="0.9"/>
<text x="630.50" y="183.40" font-size="7.8" text-anchor="end" dominant-baseline="central" fill="#1e1e1e" stroke="#1e1e1e" stroke-width="0.18" letter-spacing="0.35">0.5</text>
<line x1="631.30" y1="206.60" x2="633.50" y2="206.60" stroke="#333" stroke-width="0.9"/>
<text x="630.50" y="206.60" font-size="7.8" text-anchor="end" dominant-baseline="central" fill="#1e1e1e" stroke="#1e1e1e" stroke-width="0.18" letter-spacing="0.35">0.0</text>
<text x="610.00" y="171.80" font-size="8.8" text-anchor="middle" dominant-baseline="central" fill="#333" stroke="#333" stroke-width="0.18" transform="rotate(-90 610 171.8)">relative mRNA</text>
<rect x="639.00" y="161.13" width="10.80" height="45.47" fill="#fff" stroke="#111" stroke-width="1.1"/>
<line x1="644.40" y1="159.27" x2="644.40" y2="162.98" stroke="#111" stroke-width="0.8"/>
<line x1="641.90" y1="159.27" x2="646.90" y2="159.27" stroke="#111" stroke-width="0.8"/>
<line x1="641.90" y1="162.98" x2="646.90" y2="162.98" stroke="#111" stroke-width="0.8"/>
<circle cx="640.40" cy="159.27" r="1.9" fill="#111"/>
<circle cx="643.40" cy="158.34" r="1.9" fill="#111"/>
<circle cx="647.90" cy="160.20" r="1.9" fill="#111"/>
<circle cx="641.40" cy="161.59" r="1.9" fill="#111"/>
<circle cx="646.40" cy="161.59" r="1.9" fill="#111"/>
<rect x="655.50" y="161.13" width="10.80" height="45.47" fill="#fff" stroke="#d9d1ae" stroke-width="0.9"/>
<line x1="660.90" y1="156.49" x2="660.90" y2="165.77" stroke="#d9d1ae" stroke-width="0.8"/>
<line x1="658.40" y1="156.49" x2="663.40" y2="156.49" stroke="#d9d1ae" stroke-width="0.8"/>
<line x1="658.40" y1="165.77" x2="663.40" y2="165.77" stroke="#d9d1ae" stroke-width="0.8"/>
<circle cx="660.90" cy="154.63" r="1.9" fill="#c2b47c"/>
<circle cx="656.90" cy="160.20" r="1.9" fill="#c2b47c"/>
<circle cx="664.90" cy="160.20" r="1.9" fill="#c2b47c"/>
<circle cx="657.90" cy="162.52" r="1.9" fill="#c2b47c"/>
<circle cx="663.90" cy="162.52" r="1.9" fill="#c2b47c"/>
<rect x="671.50" y="162.52" width="10.80" height="44.08" fill="#fff" stroke="#e2b98a" stroke-width="0.9"/>
<line x1="676.90" y1="157.88" x2="676.90" y2="167.16" stroke="#e2b98a" stroke-width="0.8"/>
<line x1="674.40" y1="157.88" x2="679.40" y2="157.88" stroke="#e2b98a" stroke-width="0.8"/>
<line x1="674.40" y1="167.16" x2="679.40" y2="167.16" stroke="#e2b98a" stroke-width="0.8"/>
<circle cx="676.90" cy="156.95" r="1.9" fill="#d59c4c"/>
<circle cx="672.90" cy="161.59" r="1.9" fill="#d59c4c"/>
<circle cx="680.90" cy="161.59" r="1.9" fill="#d59c4c"/>
<circle cx="674.90" cy="163.91" r="1.9" fill="#d59c4c"/>
<circle cx="676.90" cy="167.16" r="1.9" fill="#d59c4c"/>
<rect x="688.00" y="160.20" width="10.80" height="46.40" fill="#fff" stroke="#b08850" stroke-width="0.9"/>
<line x1="693.40" y1="154.63" x2="693.40" y2="165.77" stroke="#b08850" stroke-width="0.8"/>
<line x1="690.90" y1="154.63" x2="695.90" y2="154.63" stroke="#b08850" stroke-width="0.8"/>
<line x1="690.90" y1="165.77" x2="695.90" y2="165.77" stroke="#b08850" stroke-width="0.8"/>
<circle cx="689.90" cy="155.56" r="1.9" fill="#9c6a26"/>
<circle cx="696.90" cy="155.56" r="1.9" fill="#9c6a26"/>
<circle cx="693.40" cy="159.27" r="1.9" fill="#9c6a26"/>
<circle cx="689.40" cy="163.91" r="1.9" fill="#9c6a26"/>
<circle cx="697.40" cy="163.91" r="1.9" fill="#9c6a26"/>
<text x="671.50" y="137.50" font-size="8.8" text-anchor="middle" dominant-baseline="central" fill="#333" stroke="#333" stroke-width="0.18">ns</text>
<line x1="645.00" y1="144.00" x2="698.00" y2="144.00" stroke="#444" stroke-width="0.9"/>
<text x="668.30" y="214.00" font-size="8.8" text-anchor="middle" dominant-baseline="central" fill="#333" stroke="#333" stroke-width="0.18">CHD6</text>
<text x="14.10" y="244.10" font-size="17" font-weight="bold" fill="#111">C</text>
<text x="68.00" y="256.80" font-size="8.8" text-anchor="middle" dominant-baseline="central" fill="#181818" stroke="#181818" stroke-width="0.18">IgG</text>
<text x="120.00" y="248.80" font-size="8.8" text-anchor="middle" dominant-baseline="central" fill="#181818" stroke="#181818" stroke-width="0.18">IP: Flag</text>
<line x1="85.30" y1="256.30" x2="144.00" y2="256.30" stroke="#333" stroke-width="1"/>
<text x="36.00" y="269.30" font-size="8.8" text-anchor="start" dominant-baseline="central" fill="#181818" stroke="#181818" stroke-width="0.18">DMF</text>
<rect x="65.30" y="268.70" width="7.00" height="1.60" fill="#111"/>
<rect x="82.40" y="268.70" width="7.00" height="1.60" fill="#111"/>
<polygon points="100.80,271.20 142.70,271.20 142.70,261.30" fill="#1a1a1a"/>
<text x="9.30" y="283.50" font-size="8.8" text-anchor="start" dominant-baseline="central" fill="#181818" stroke="#181818" stroke-width="0.18">Flag-CHD6</text>
<rect x="65.80" y="282.75" width="6.00" height="1.50" fill="#111"/>
<rect x="68.05" y="280.50" width="1.50" height="6.00" fill="#111"/>
<rect x="82.90" y="282.75" width="6.00" height="1.50" fill="#111"/>
<rect x="85.15" y="280.50" width="1.50" height="6.00" fill="#111"/>
<rect x="102.30" y="282.75" width="6.00" height="1.50" fill="#111"/>
<rect x="104.55" y="280.50" width="1.50" height="6.00" fill="#111"/>
<rect x="118.30" y="282.75" width="6.00" height="1.50" fill="#111"/>
<rect x="120.55" y="280.50" width="1.50" height="6.00" fill="#111"/>
<rect x="135.10" y="282.75" width="6.00" height="1.50" fill="#111"/>
<rect x="137.35" y="280.50" width="1.50" height="6.00" fill="#111"/>
<rect x="58.40" y="292.40" width="87.20" height="76.70" fill="#d2d2d2"/>
<rect x="58.70" y="293.40" width="17.00" height="74.70" fill="#bcbcbc" opacity="1.00" filter="url(#b1)"/>
<rect x="112.50" y="293.40" width="13.00" height="74.70" fill="#bababa" opacity="1.00" filter="url(#b1)"/>
<rect x="129.30" y="293.40" width="14.00" height="74.70" fill="#c2c2c2" opacity="1.00" filter="url(#b1)"/>
<rect x="59.70" y="311.75" width="15.00" height="2.50" rx="1.25" fill="#000" opacity="0.08" filter="url(#b2)"/>
<rect x="113.00" y="311.75" width="12.00" height="2.50" rx="1.25" fill="#000" opacity="0.10" filter="url(#b2)"/>
<rect x="59.70" y="324.75" width="15.00" height="2.50" rx="1.25" fill="#000" opacity="0.08" filter="url(#b2)"/>
<rect x="113.00" y="324.75" width="12.00" height="2.50" rx="1.25" fill="#000" opacity="0.10" filter="url(#b2)"/>
<rect x="59.70" y="336.75" width="15.00" height="2.50" rx="1.25" fill="#000" opacity="0.08" filter="url(#b2)"/>
<rect x="113.00" y="336.75" width="12.00" height="2.50" rx="1.25" fill="#000" opacity="0.10" filter="url(#b2)"/>
<rect x="59.70" y="348.75" width="15.00" height="2.50" rx="1.25" fill="#000" opacity="0.08" filter="url(#b2)"/>
<rect x="113.00" y="348.75" width="12.00" height="2.50" rx="1.25" fill="#000" opacity="0.10" filter="url(#b2)"/>
<path d="M77.8,292.4 L92,292.4 L91.6,310 L92.4,330 L91.6,350 L92,369.1 L78,369.1 L77.4,350 L78.2,330 L77.4,310 Z" fill="#040404" filter="url(#b1)"/>
<rect x="95.60" y="292.90" width="13.80" height="75.70" fill="#0c0c0c" filter="url(#b1)"/>
<ellipse cx="102.5" cy="301.80" rx="4.00" ry="3.40" fill="#3a3a3a" filter="url(#b2)"/>
<ellipse cx="102.5" cy="314.00" rx="6.00" ry="5.20" fill="#5c5c5c" filter="url(#b2)"/>
<ellipse cx="102.5" cy="326.20" rx="5.40" ry="4.60" fill="#505050" filter="url(#b2)"/>
<ellipse cx="102.5" cy="338.60" rx="5.80" ry="4.80" fill="#555" filter="url(#b2)"/>
<ellipse cx="102.5" cy="350.60" rx="5.40" ry="4.40" fill="#4a4a4a" filter="url(#b2)"/>
<ellipse cx="102.5" cy="362.60" rx="5.00" ry="4.40" fill="#505050" filter="url(#b2)"/>
<rect x="58.40" y="292.40" width="87.20" height="76.70" fill="none"/>
<g clip-path="none">
</g>
<rect x="58.40" y="292.40" width="87.20" height="76.70" fill="none" stroke="#2e2e2e" stroke-width="1"/>
<line x1="48.00" y1="295.00" x2="48.00" y2="364.10" stroke="#111" stroke-width="1.45"/>
<text x="38.70" y="330.60" font-size="8.8" text-anchor="middle" dominant-baseline="central" fill="#181818" stroke="#181818" stroke-width="0.18" transform="rotate(-90 38.7 330.6)">IB:HA</text>
<text x="157.30" y="329.30" font-size="8.8" text-anchor="middle" dominant-baseline="central" fill="#181818" stroke="#181818" stroke-width="0.18" transform="rotate(-90 157.3 329.3)">(Ub)n&#160; -CHD6</text>
<rect x="58.40" y="374.40" width="87.20" height="16.90" fill="#eaeaea"/>
<g clip-path="none">
<rect x="60.75" y="381.10" width="12.50" height="3.60" rx="1.80" fill="#161616" opacity="1.00" filter="url(#b1)"/>
<rect x="78.65" y="381.10" width="12.50" height="3.60" rx="1.80" fill="#161616" opacity="1.00" filter="url(#b1)"/>
<rect x="96.55" y="381.30" width="12.50" height="2.60" rx="1.30" fill="#161616" opacity="0.60" filter="url(#b1)"/>
</g>
<rect x="58.40" y="374.40" width="87.20" height="16.90" fill="none" stroke="#2e2e2e" stroke-width="1"/>
<rect x="58.40" y="396.90" width="87.20" height="16.80" fill="#d8d8d8"/>
<g clip-path="none">
<rect x="61.05" y="404.20" width="12.50" height="2.60" rx="1.30" fill="#161616" opacity="0.65" filter="url(#b1)"/>
<rect x="77.65" y="404.20" width="13.50" height="2.60" rx="1.30" fill="#161616" opacity="0.55" filter="url(#b1)"/>
<rect x="96.60" y="403.30" width="12.80" height="4.00" rx="2.00" fill="#161616" opacity="1.00" filter="url(#b1)"/>
<rect x="113.10" y="403.00" width="11.80" height="4.00" rx="2.00" fill="#161616" opacity="1.00" filter="url(#b1)" transform="rotate(-3 119 405)"/>
<rect x="130.20" y="402.80" width="12.60" height="4.40" rx="2.20" fill="#161616" opacity="1.00" filter="url(#b1)" transform="rotate(-3 136.5 405)"/>
</g>
<rect x="58.40" y="396.90" width="87.20" height="16.80" fill="none" stroke="#2e2e2e" stroke-width="1"/>
<text x="149.30" y="383.20" font-size="8.8" text-anchor="start" dominant-baseline="central" fill="#181818" stroke="#181818" stroke-width="0.18">Keap1</text>
<text x="149.30" y="404.50" font-size="8.8" text-anchor="start" dominant-baseline="central" fill="#181818" stroke="#181818" stroke-width="0.18">anti-Flag</text>
<line x1="48.00" y1="377.30" x2="48.00" y2="409.30" stroke="#111" stroke-width="1.45"/>
<text x="39.50" y="393.30" font-size="8.8" text-anchor="middle" dominant-baseline="central" fill="#181818" stroke="#181818" stroke-width="0.18" transform="rotate(-90 39.5 393.3)">Input</text>
<text x="112.00" y="422.10" font-size="8.8" text-anchor="start" dominant-baseline="central" fill="#181818" stroke="#181818" stroke-width="0.18">+MG132</text>
<text x="179.50" y="244.10" font-size="17" font-weight="bold" fill="#111">D</text>
<text x="262.80" y="248.80" font-size="8.8" text-anchor="middle" dominant-baseline="central" fill="#181818" stroke="#181818" stroke-width="0.18">UOK-262</text>
<line x1="239.90" y1="256.50" x2="287.30" y2="256.50" stroke="#333" stroke-width="1"/>
<text x="203.30" y="268.80" font-size="8.8" text-anchor="start" dominant-baseline="central" fill="#181818" stroke="#181818" stroke-width="0.18">Keap1</text>
<rect x="239.00" y="268.20" width="7.00" height="1.60" fill="#111"/>
<polygon points="255.30,271.20 286.00,271.20 286.00,262.10" fill="#1a1a1a"/>
<text x="184.70" y="282.70" font-size="8.8" text-anchor="start" dominant-baseline="central" fill="#181818" stroke="#181818" stroke-width="0.18">Flag-CHD6</text>
<rect x="238.50" y="281.95" width="6.00" height="1.50" fill="#111"/>
<rect x="240.75" y="279.70" width="1.50" height="6.00" fill="#111"/>
<rect x="259.00" y="281.95" width="6.00" height="1.50" fill="#111"/>
<rect x="261.25" y="279.70" width="1.50" height="6.00" fill="#111"/>
<rect x="277.70" y="281.95" width="6.00" height="1.50" fill="#111"/>
<rect x="279.95" y="279.70" width="1.50" height="6.00" fill="#111"/>
<rect x="234.10" y="291.80" width="53.50" height="78.20" fill="#dcdcdc"/>
<rect x="235.60" y="293.80" width="14" height="74.20" fill="#cbcbcb" filter="url(#b2)"/>
<rect x="236.10" y="297.90" width="13.00" height="4.00" rx="2.00" fill="#000" opacity="0.06" filter="url(#b2)"/>
<rect x="236.10" y="315.40" width="13.00" height="4.00" rx="2.00" fill="#000" opacity="0.05" filter="url(#b2)"/>
<rect x="236.10" y="324.90" width="13.00" height="4.00" rx="2.00" fill="#000" opacity="0.06" filter="url(#b2)"/>
<rect x="236.10" y="335.90" width="13.00" height="4.00" rx="2.00" fill="#000" opacity="0.06" filter="url(#b2)"/>
<rect x="236.10" y="345.40" width="13.00" height="4.00" rx="2.00" fill="#000" opacity="0.06" filter="url(#b2)"/>
<rect x="236.10" y="358.50" width="13.00" height="4.00" rx="2.00" fill="#000" opacity="0.04" filter="url(#b2)"/>
<rect x="253.50" y="293.80" width="14" height="74.20" fill="#cbcbcb" filter="url(#b2)"/>
<rect x="254.00" y="297.90" width="13.00" height="4.00" rx="2.00" fill="#000" opacity="0.06" filter="url(#b2)"/>
<rect x="254.00" y="315.40" width="13.00" height="4.00" rx="2.00" fill="#000" opacity="0.05" filter="url(#b2)"/>
<rect x="254.00" y="324.90" width="13.00" height="4.00" rx="2.00" fill="#000" opacity="0.06" filter="url(#b2)"/>
<rect x="254.00" y="335.90" width="13.00" height="4.00" rx="2.00" fill="#000" opacity="0.06" filter="url(#b2)"/>
<rect x="254.00" y="345.40" width="13.00" height="4.00" rx="2.00" fill="#000" opacity="0.06" filter="url(#b2)"/>
<rect x="254.00" y="358.50" width="13.00" height="4.00" rx="2.00" fill="#000" opacity="0.04" filter="url(#b2)"/>
<rect x="271.00" y="293.80" width="14" height="74.20" fill="#cbcbcb" filter="url(#b2)"/>
<rect x="271.50" y="297.90" width="13.00" height="4.00" rx="2.00" fill="#000" opacity="0.06" filter="url(#b2)"/>
<rect x="271.50" y="315.40" width="13.00" height="4.00" rx="2.00" fill="#000" opacity="0.05" filter="url(#b2)"/>
<rect x="271.50" y="324.90" width="13.00" height="4.00" rx="2.00" fill="#000" opacity="0.06" filter="url(#b2)"/>
<rect x="271.50" y="335.90" width="13.00" height="4.00" rx="2.00" fill="#000" opacity="0.06" filter="url(#b2)"/>
<rect x="271.50" y="345.40" width="13.00" height="4.00" rx="2.00" fill="#000" opacity="0.06" filter="url(#b2)"/>
<rect x="271.50" y="358.50" width="13.00" height="4.00" rx="2.00" fill="#000" opacity="0.04" filter="url(#b2)"/>
<rect x="234.10" y="291.80" width="53.50" height="78.20" fill="none"/>
<g clip-path="none">
</g>
<rect x="234.10" y="291.80" width="53.50" height="78.20" fill="none" stroke="#2e2e2e" stroke-width="1"/>
<line x1="223.30" y1="296.00" x2="223.30" y2="364.00" stroke="#111" stroke-width="1.45"/>
<text x="214.00" y="330.70" font-size="8.8" text-anchor="middle" dominant-baseline="central" fill="#181818" stroke="#181818" stroke-width="0.18" transform="rotate(-90 214 330.7)">IB:HA</text>
<text x="300.70" y="329.30" font-size="8.8" text-anchor="middle" dominant-baseline="central" fill="#181818" stroke="#181818" stroke-width="0.18" transform="rotate(-90 300.7 329.3)">(Ub)n&#160; -CHD6</text>
<rect x="234.10" y="374.40" width="53.50" height="16.80" fill="#c8ccd4"/>
<g clip-path="none">
<rect x="253.85" y="380.80" width="13.50" height="2.80" rx="1.40" fill="#161616" opacity="0.95" filter="url(#b1)"/>
<rect x="271.20" y="379.60" width="14.00" height="4.20" rx="2.10" fill="#161616" opacity="1.00" filter="url(#b1)"/>
</g>
<rect x="234.10" y="374.40" width="53.50" height="16.80" fill="none" stroke="#2e2e2e" stroke-width="1"/>
<rect x="234.10" y="397.10" width="53.50" height="16.00" fill="#d6d6d6"/>
<g clip-path="none">
<rect x="234.90" y="403.10" width="14.00" height="4.00" rx="2.00" fill="#111" opacity="1.00" filter="url(#b1)" transform="rotate(3 241.9 405.1)"/>
<rect x="253.85" y="403.20" width="13.50" height="3.80" rx="1.90" fill="#161616" opacity="1.00" filter="url(#b1)"/>
<rect x="271.70" y="403.10" width="14.00" height="3.80" rx="1.90" fill="#161616" opacity="1.00" filter="url(#b1)"/>
</g>
<rect x="234.10" y="397.10" width="53.50" height="16.00" fill="none" stroke="#2e2e2e" stroke-width="1"/>
<text x="292.10" y="383.00" font-size="8.8" text-anchor="start" dominant-baseline="central" fill="#181818" stroke="#181818" stroke-width="0.18">Keap1</text>
<text x="292.10" y="404.50" font-size="8.8" text-anchor="start" dominant-baseline="central" fill="#181818" stroke="#181818" stroke-width="0.18">anti-Flag</text>
<line x1="224.10" y1="379.50" x2="224.10" y2="411.50" stroke="#111" stroke-width="1.45"/>
<text x="215.90" y="395.50" font-size="8.8" text-anchor="middle" dominant-baseline="central" fill="#181818" stroke="#181818" stroke-width="0.18" transform="rotate(-90 215.9 395.5)">Input</text>
<text x="256.70" y="422.10" font-size="8.8" text-anchor="start" dominant-baseline="central" fill="#181818" stroke="#181818" stroke-width="0.18">+MG132</text>
<text x="341.40" y="244.10" font-size="17" font-weight="bold" fill="#111">E</text>
<text x="417.60" y="251.50" font-size="10.3" text-anchor="start" dominant-baseline="central" fill="#181818" stroke="#181818" stroke-width="0.18">Keap1-mutants</text>
<rect x="367.30" y="263.50" width="11.20" height="17.30" fill="#dcbc92"/>
<rect x="367.30" y="280.80" width="11.20" height="16.00" fill="#2ca6e0"/>
<rect x="367.30" y="296.80" width="11.20" height="15.20" fill="#857970"/>
<rect x="367.30" y="312.00" width="11.20" height="106.70" fill="#dcbc92"/>
<rect x="367.30" y="320.00" width="11.20" height="8.00" fill="#b57d3e"/>
<rect x="367.30" y="336.80" width="11.20" height="8.00" fill="#b57d3e"/>
<rect x="367.30" y="353.30" width="11.20" height="8.00" fill="#b57d3e"/>
<rect x="367.30" y="369.90" width="11.20" height="8.00" fill="#b57d3e"/>
<rect x="367.30" y="386.00" width="11.20" height="8.00" fill="#b57d3e"/>
<rect x="367.30" y="402.70" width="11.20" height="8.00" fill="#b57d3e"/>
<rect x="423.30" y="263.50" width="11.20" height="17.30" fill="#dcbc92"/>
<rect x="423.30" y="280.80" width="11.20" height="16.00" fill="#2ca6e0"/>
<rect x="423.30" y="296.80" width="11.20" height="15.20" fill="#857970"/>
<rect x="423.30" y="312.00" width="11.20" height="106.70" fill="#dcbc92"/>
<rect x="423.30" y="320.00" width="11.20" height="8.00" fill="#b57d3e"/>
<rect x="423.30" y="336.80" width="11.20" height="8.00" fill="#b57d3e"/>
<rect x="423.30" y="353.30" width="11.20" height="8.00" fill="#b57d3e"/>
<rect x="423.30" y="369.90" width="11.20" height="8.00" fill="#b57d3e"/>
<rect x="423.30" y="386.00" width="11.20" height="8.00" fill="#b57d3e"/>
<rect x="423.30" y="402.70" width="11.20" height="8.00" fill="#b57d3e"/>
<text x="398.20" y="266.20" font-size="10.1" text-anchor="middle" dominant-baseline="central" fill="#181818" stroke="#181818" stroke-width="0.18" transform="rotate(-90 398.2 266.2)">BTB</text>
<text x="398.20" y="310.70" font-size="10.2" text-anchor="middle" dominant-baseline="central" fill="#181818" stroke="#181818" stroke-width="0.18" transform="rotate(-90 398.2 310.7)">BACK</text>
<text x="398.20" y="364.00" font-size="10.2" text-anchor="middle" dominant-baseline="central" fill="#181818" stroke="#181818" stroke-width="0.18" transform="rotate(-90 398.2 364)">Kelch</text>
<text x="356.70" y="394.00" font-size="10.4" text-anchor="middle" dominant-baseline="central" fill="#181818" stroke="#181818" stroke-width="0.18" transform="rotate(-90 356.7 394)">WT-Keap1</text>
<line x1="379.30" y1="288.80" x2="390.00" y2="267.50" stroke="#222" stroke-width="0.8"/>
<line x1="380.50" y1="303.80" x2="389.20" y2="306.80" stroke="#222" stroke-width="0.8"/>
<line x1="378.60" y1="324.00" x2="391.30" y2="362.70" stroke="#222" stroke-width="0.7"/>
<line x1="378.60" y1="340.80" x2="391.30" y2="362.70" stroke="#222" stroke-width="0.7"/>
<line x1="378.60" y1="357.30" x2="391.30" y2="362.70" stroke="#222" stroke-width="0.7"/>
<line x1="378.60" y1="373.90" x2="391.30" y2="362.70" stroke="#222" stroke-width="0.7"/>
<line x1="378.60" y1="390.00" x2="391.30" y2="362.70" stroke="#222" stroke-width="0.7"/>
<line x1="378.60" y1="406.70" x2="391.30" y2="362.70" stroke="#222" stroke-width="0.7"/>
<polyline points="434.50,324.00 443.30,315.50 451.30,315.50" stroke="#c8262e" stroke-width="0.9" fill="none"/>
<text x="452.30" y="315.50" font-size="10.5" text-anchor="start" dominant-baseline="central" fill="#c8262e" stroke="#c8262e" stroke-width="0.18">G333C</text>
<polyline points="434.50,373.90 443.30,366.10 451.30,366.10" stroke="#c8262e" stroke-width="0.9" fill="none"/>
<text x="452.30" y="366.10" font-size="10.5" text-anchor="start" dominant-baseline="central" fill="#c8262e" stroke="#c8262e" stroke-width="0.18">D479G</text>
<polyline points="434.50,390.00 443.30,381.90 451.30,381.90" stroke="#c8262e" stroke-width="0.9" fill="none"/>
<text x="452.30" y="381.90" font-size="10.5" text-anchor="start" dominant-baseline="central" fill="#c8262e" stroke="#c8262e" stroke-width="0.18">W544C</text>
<polyline points="434.50,406.70 443.30,397.90 451.30,397.90" stroke="#c8262e" stroke-width="0.9" fill="none"/>
<text x="452.30" y="397.90" font-size="10.5" text-anchor="start" dominant-baseline="central" fill="#c8262e" stroke="#c8262e" stroke-width="0.18">R554Q</text>
<polyline points="488.70,315.50 495.30,315.50 495.30,397.90 488.70,397.90" stroke="#c8262e" stroke-width="0.9" fill="none"/>
<text x="511.10" y="243.80" font-size="17" font-weight="bold" fill="#111">F</text>
<text x="564.70" y="275.00" font-size="8.7" text-anchor="end" dominant-baseline="central" fill="#181818" stroke="#181818" stroke-width="0.18">Myc-Keap1-</text>
<text x="576.00" y="283.50" font-size="9.4" fill="#181818" stroke="#181818" stroke-width="0.18" transform="rotate(-36 576.00 283.50)">EV</text>
<text x="597.70" y="283.50" font-size="9.4" fill="#181818" stroke="#181818" stroke-width="0.18" transform="rotate(-36 597.70 283.50)">WT</text>
<text x="616.50" y="283.50" font-size="9.4" fill="#181818" stroke="#181818" stroke-width="0.18" transform="rotate(-36 616.50 283.50)">G333C</text>
<text x="637.80" y="283.50" font-size="9.4" fill="#181818" stroke="#181818" stroke-width="0.18" transform="rotate(-36 637.80 283.50)">R554Q</text>
<text x="662.30" y="283.50" font-size="9.4" fill="#181818" stroke="#181818" stroke-width="0.18" transform="rotate(-36 662.30 283.50)">W544C</text>
<text x="688.00" y="283.50" font-size="9.4" fill="#181818" stroke="#181818" stroke-width="0.18" transform="rotate(-36 688.00 283.50)">D479G</text>
<text x="564.70" y="294.00" font-size="8.8" text-anchor="end" dominant-baseline="central" fill="#181818" stroke="#181818" stroke-width="0.18">Flag-CHD6</text>
<rect x="575.30" y="293.25" width="6.00" height="1.50" fill="#111"/>
<rect x="577.55" y="291.00" width="1.50" height="6.00" fill="#111"/>
<rect x="597.00" y="293.25" width="6.00" height="1.50" fill="#111"/>
<rect x="599.25" y="291.00" width="1.50" height="6.00" fill="#111"/>
<rect x="619.30" y="293.25" width="6.00" height="1.50" fill="#111"/>
<rect x="621.55" y="291.00" width="1.50" height="6.00" fill="#111"/>
<rect x="641.30" y="293.25" width="6.00" height="1.50" fill="#111"/>
<rect x="643.55" y="291.00" width="1.50" height="6.00" fill="#111"/>
<rect x="663.70" y="293.25" width="6.00" height="1.50" fill="#111"/>
<rect x="665.95" y="291.00" width="1.50" height="6.00" fill="#111"/>
<rect x="685.30" y="293.25" width="6.00" height="1.50" fill="#111"/>
<rect x="687.55" y="291.00" width="1.50" height="6.00" fill="#111"/>
<rect x="564.80" y="302.30" width="134.00" height="19.30" fill="#e0e0e0"/>
<g clip-path="none">
<rect x="590.90" y="309.70" width="16.60" height="3.60" rx="1.80" fill="#161616" opacity="1.00" filter="url(#b1)"/>
<rect x="613.10" y="310.70" width="17.00" height="2.40" rx="1.20" fill="#161616" opacity="0.45" filter="url(#b1)"/>
<rect x="634.90" y="310.40" width="17.00" height="2.40" rx="1.20" fill="#161616" opacity="0.45" filter="url(#b1)"/>
<rect x="656.70" y="310.40" width="17.00" height="2.40" rx="1.20" fill="#161616" opacity="0.42" filter="url(#b1)"/>
<rect x="678.30" y="310.20" width="17.00" height="2.40" rx="1.20" fill="#161616" opacity="0.45" filter="url(#b1)"/>
</g>
<rect x="564.80" y="302.30" width="134.00" height="19.30" fill="none" stroke="#2e2e2e" stroke-width="1"/>
<rect x="564.80" y="324.70" width="134.00" height="18.70" fill="#e0e0e0"/>
<g clip-path="none">
<rect x="590.90" y="331.00" width="16.60" height="3.60" rx="1.80" fill="#161616" opacity="1.00" filter="url(#b1)"/>
<rect x="613.10" y="331.70" width="17.00" height="3.40" rx="1.70" fill="#161616" opacity="1.00" filter="url(#b1)"/>
<rect x="634.90" y="331.60" width="17.00" height="4.40" rx="2.20" fill="#161616" opacity="1.00" filter="url(#b1)"/>
<rect x="657.20" y="332.90" width="16.00" height="2.80" rx="1.40" fill="#161616" opacity="1.00" filter="url(#b1)"/>
<rect x="678.05" y="331.80" width="17.50" height="4.80" rx="2.40" fill="#161616" opacity="1.00" filter="url(#b1)"/>
</g>
<rect x="564.80" y="324.70" width="134.00" height="18.70" fill="none" stroke="#2e2e2e" stroke-width="1"/>
<rect x="564.80" y="352.50" width="134.00" height="19.90" fill="#e2e2e2"/>
<g clip-path="none">
<rect x="569.90" y="359.20" width="14.80" height="3.20" rx="1.60" fill="#161616" opacity="1.00" filter="url(#b1)"/>
<rect x="591.80" y="359.20" width="14.80" height="3.20" rx="1.60" fill="#161616" opacity="1.00" filter="url(#b1)"/>
<rect x="614.20" y="359.20" width="14.80" height="3.20" rx="1.60" fill="#161616" opacity="1.00" filter="url(#b1)"/>
<rect x="636.00" y="359.20" width="14.80" height="3.20" rx="1.60" fill="#161616" opacity="1.00" filter="url(#b1)"/>
<rect x="657.80" y="359.20" width="14.80" height="3.20" rx="1.60" fill="#161616" opacity="1.00" filter="url(#b1)"/>
<rect x="679.40" y="359.20" width="14.80" height="3.20" rx="1.60" fill="#161616" opacity="1.00" filter="url(#b1)"/>
</g>
<rect x="564.80" y="352.50" width="134.00" height="19.90" fill="none" stroke="#2e2e2e" stroke-width="1"/>
<rect x="564.80" y="375.30" width="134.00" height="18.00" fill="#e0e0e0"/>
<g clip-path="none">
<rect x="590.70" y="382.90" width="17.00" height="2.60" rx="1.30" fill="#161616" opacity="0.75" filter="url(#b1)"/>
<rect x="612.60" y="382.00" width="18.00" height="4.00" rx="2.00" fill="#161616" opacity="1.00" filter="url(#b1)"/>
<rect x="634.70" y="382.00" width="17.40" height="4.00" rx="2.00" fill="#161616" opacity="1.00" filter="url(#b1)"/>
<rect x="656.50" y="382.10" width="17.40" height="3.80" rx="1.90" fill="#161616" opacity="1.00" filter="url(#b1)"/>
<rect x="678.10" y="380.70" width="17.40" height="5.00" rx="2.50" fill="#161616" opacity="1.00" filter="url(#b1)"/>
</g>
<rect x="564.80" y="375.30" width="134.00" height="18.00" fill="none" stroke="#2e2e2e" stroke-width="1"/>
<text x="701.00" y="310.70" font-size="8.8" text-anchor="start" dominant-baseline="central" fill="#181818" stroke="#181818" stroke-width="0.18">anti-Flag</text>
<text x="701.00" y="335.00" font-size="8.8" text-anchor="start" dominant-baseline="central" fill="#181818" stroke="#181818" stroke-width="0.18">anti-Myc</text>
<text x="701.00" y="362.70" font-size="8.8" text-anchor="start" dominant-baseline="central" fill="#181818" stroke="#181818" stroke-width="0.18">anti-Flag</text>
<text x="701.00" y="386.00" font-size="8.8" text-anchor="start" dominant-baseline="central" fill="#181818" stroke="#181818" stroke-width="0.18">anti-Myc</text>
<line x1="555.00" y1="305.00" x2="555.00" y2="342.70" stroke="#111" stroke-width="1.45"/>
<text x="535.00" y="319.00" font-size="8.8" text-anchor="start" dominant-baseline="central" fill="#181818" stroke="#181818" stroke-width="0.18">IP:</text>
<text x="535.00" y="330.50" font-size="8.8" text-anchor="start" dominant-baseline="central" fill="#181818" stroke="#181818" stroke-width="0.18">Myc</text>
<line x1="555.00" y1="353.30" x2="555.00" y2="393.30" stroke="#111" stroke-width="1.45"/>
<text x="546.70" y="371.40" font-size="8.8" text-anchor="middle" dominant-baseline="central" fill="#181818" stroke="#181818" stroke-width="0.18" transform="rotate(-90 546.7 371.4)">Input</text>
<text x="14.70" y="451.50" font-size="17" font-weight="bold" fill="#111">G</text>
<text x="19.10" y="469.00" font-size="8.8" text-anchor="start" dominant-baseline="central" fill="#181818" stroke="#181818" stroke-width="0.18">Myc-Keap1</text>
<rect x="68.40" y="468.50" width="7.00" height="1.60" fill="#111"/>
<text x="87.60" y="472.00" font-size="8.2" fill="#181818" stroke="#181818" stroke-width="0.18" transform="rotate(-38 87.60 472.00)">WT</text>
<text x="104.00" y="472.00" font-size="8.2" fill="#181818" stroke="#181818" stroke-width="0.18" transform="rotate(-38 104.00 472.00)">G333C</text>
<text x="123.80" y="472.00" font-size="8.2" fill="#181818" stroke="#181818" stroke-width="0.18" transform="rotate(-38 123.80 472.00)">R554Q</text>
<text x="143.30" y="472.00" font-size="8.2" fill="#181818" stroke="#181818" stroke-width="0.18" transform="rotate(-38 143.30 472.00)">W544C</text>
<text x="162.30" y="472.00" font-size="8.2" fill="#181818" stroke="#181818" stroke-width="0.18" transform="rotate(-38 162.30 472.00)">D479G</text>
<text x="19.90" y="482.20" font-size="8.8" text-anchor="start" dominant-baseline="central" fill="#181818" stroke="#181818" stroke-width="0.18">Flag-CHD6</text>
<text x="38.10" y="493.10" font-size="8.8" text-anchor="start" dominant-baseline="central" fill="#181818" stroke="#181818" stroke-width="0.18">HA-Ub</text>
<rect x="68.90" y="481.45" width="6.00" height="1.50" fill="#111"/>
<rect x="71.15" y="479.20" width="1.50" height="6.00" fill="#111"/>
<rect x="68.90" y="492.35" width="6.00" height="1.50" fill="#111"/>
<rect x="71.15" y="490.10" width="1.50" height="6.00" fill="#111"/>
<rect x="87.30" y="481.45" width="6.00" height="1.50" fill="#111"/>
<rect x="89.55" y="479.20" width="1.50" height="6.00" fill="#111"/>
<rect x="87.30" y="492.35" width="6.00" height="1.50" fill="#111"/>
<rect x="89.55" y="490.10" width="1.50" height="6.00" fill="#111"/>
<rect x="104.70" y="481.45" width="6.00" height="1.50" fill="#111"/>
<rect x="106.95" y="479.20" width="1.50" height="6.00" fill="#111"/>
<rect x="104.70" y="492.35" width="6.00" height="1.50" fill="#111"/>
<rect x="106.95" y="490.10" width="1.50" height="6.00" fill="#111"/>
<rect x="122.30" y="481.45" width="6.00" height="1.50" fill="#111"/>
<rect x="124.55" y="479.20" width="1.50" height="6.00" fill="#111"/>
<rect x="122.30" y="492.35" width="6.00" height="1.50" fill="#111"/>
<rect x="124.55" y="490.10" width="1.50" height="6.00" fill="#111"/>
<rect x="140.20" y="481.45" width="6.00" height="1.50" fill="#111"/>
<rect x="142.45" y="479.20" width="1.50" height="6.00" fill="#111"/>
<rect x="140.20" y="492.35" width="6.00" height="1.50" fill="#111"/>
<rect x="142.45" y="490.10" width="1.50" height="6.00" fill="#111"/>
<rect x="157.80" y="481.45" width="6.00" height="1.50" fill="#111"/>
<rect x="160.05" y="479.20" width="1.50" height="6.00" fill="#111"/>
<rect x="157.80" y="492.35" width="6.00" height="1.50" fill="#111"/>
<rect x="160.05" y="490.10" width="1.50" height="6.00" fill="#111"/>
<rect x="64.50" y="502.80" width="109.40" height="78.40" fill="#bdbdbd"/>
<rect x="65.50" y="509.00" width="107.40" height="4.00" fill="#000" opacity="0.06" filter="url(#b2)"/>
<rect x="65.50" y="520.00" width="107.40" height="4.00" fill="#000" opacity="0.10" filter="url(#b2)"/>
<rect x="65.50" y="529.60" width="107.40" height="4.00" fill="#000" opacity="0.10" filter="url(#b2)"/>
<rect x="65.50" y="540.80" width="107.40" height="4.00" fill="#000" opacity="0.12" filter="url(#b2)"/>
<rect x="65.50" y="553.60" width="107.40" height="4.00" fill="#000" opacity="0.10" filter="url(#b2)"/>
<rect x="65.50" y="564.00" width="107.40" height="4.00" fill="#000" opacity="0.06" filter="url(#b2)"/>
<rect x="81.20" y="503.80" width="2.4" height="76.40" fill="#dcdcdc" filter="url(#b1)"/>
<rect x="99.60" y="503.80" width="2.4" height="76.40" fill="#dcdcdc" filter="url(#b1)"/>
<rect x="115.60" y="503.80" width="2.4" height="76.40" fill="#dcdcdc" filter="url(#b1)"/>
<rect x="133.20" y="503.80" width="2.4" height="76.40" fill="#dcdcdc" filter="url(#b1)"/>
<rect x="151.30" y="503.80" width="2.4" height="76.40" fill="#dcdcdc" filter="url(#b1)"/>
<path d="M84,502.8 L99.2,502.8 L99.6,530 L98.6,545 L99.6,560 L99.2,581.2 L84.6,581.2 L84.2,560 L83.4,545 L84.2,530 Z" fill="#160e0e" filter="url(#b1)"/>
<ellipse cx="91.50" cy="514.80" rx="5.00" ry="4.00" fill="#a2aaa2" filter="url(#b2)"/>
<ellipse cx="91.50" cy="538.00" rx="5.00" ry="3.00" fill="#98a098" filter="url(#b2)"/>
<ellipse cx="91.80" cy="553.20" rx="4.20" ry="5.00" fill="#4a504a" filter="url(#b2)"/>
<ellipse cx="91.50" cy="575.50" rx="4.30" ry="5.00" fill="#4a504a" filter="url(#b2)"/>
<rect x="64.50" y="502.80" width="109.40" height="78.40" fill="none"/>
<g clip-path="none">
</g>
<rect x="64.50" y="502.80" width="109.40" height="78.40" fill="none" stroke="#2e2e2e" stroke-width="1"/>
<line x1="52.20" y1="509.20" x2="52.20" y2="575.20" stroke="#111" stroke-width="1.45"/>
<text x="42.50" y="540.00" font-size="8.8" text-anchor="middle" dominant-baseline="central" fill="#181818" stroke="#181818" stroke-width="0.18" transform="rotate(-90 42.5 540)">IB:HA</text>
<text x="187.70" y="541.50" font-size="8.8" text-anchor="middle" dominant-baseline="central" fill="#181818" stroke="#181818" stroke-width="0.18" transform="rotate(-90 187.7 541.5)">(Ub)n&#160; -CHD6</text>
<rect x="64.50" y="585.20" width="109.40" height="18.40" fill="#dadada"/>
<g clip-path="none">
<rect x="85.40" y="593.00" width="14.00" height="3.60" rx="1.80" fill="#111" opacity="1.00" filter="url(#b1)" transform="rotate(-2 92.4 594.8)"/>
<rect x="102.85" y="593.00" width="13.50" height="3.20" rx="1.60" fill="#111" opacity="1.00" filter="url(#b1)" transform="rotate(-2 109.6 594.6)"/>
<rect x="120.10" y="592.60" width="15.00" height="3.60" rx="1.80" fill="#161616" opacity="1.00" filter="url(#b1)"/>
<rect x="139.20" y="593.80" width="12.00" height="2.40" rx="1.20" fill="#161616" opacity="0.60" filter="url(#b1)"/>
<rect x="155.35" y="591.50" width="14.50" height="3.80" rx="1.90" fill="#111" opacity="1.00" filter="url(#b1)" transform="rotate(-3 162.6 593.4)"/>
</g>
<rect x="64.50" y="585.20" width="109.40" height="18.40" fill="none" stroke="#2e2e2e" stroke-width="1"/>
<rect x="64.50" y="608.40" width="109.40" height="18.40" fill="#cecece"/>
<g clip-path="none">
<rect x="67.30" y="615.00" width="15.00" height="2.80" rx="1.40" fill="#161616" opacity="0.95" filter="url(#b1)"/>
<rect x="85.60" y="615.70" width="13.60" height="2.20" rx="1.10" fill="#161616" opacity="0.50" filter="url(#b1)"/>
<rect x="102.80" y="615.60" width="13.60" height="2.80" rx="1.40" fill="#161616" opacity="0.95" filter="url(#b1)"/>
<rect x="120.80" y="615.70" width="13.60" height="3.00" rx="1.50" fill="#161616" opacity="0.95" filter="url(#b1)"/>
<rect x="138.40" y="615.50" width="13.60" height="3.00" rx="1.50" fill="#161616" opacity="0.95" filter="url(#b1)"/>
<rect x="155.40" y="615.20" width="14.40" height="2.80" rx="1.40" fill="#111" opacity="0.95" filter="url(#b1)" transform="rotate(-3 162.6 616.6)"/>
</g>
<rect x="64.50" y="608.40" width="109.40" height="18.40" fill="none" stroke="#2e2e2e" stroke-width="1"/>
<text x="177.50" y="595.70" font-size="8.8" text-anchor="start" dominant-baseline="central" fill="#181818" stroke="#181818" stroke-width="0.18">anti-Myc</text>
<text x="177.50" y="616.90" font-size="8.8" text-anchor="start" dominant-baseline="central" fill="#181818" stroke="#181818" stroke-width="0.18">anti-Flag</text>
<line x1="52.20" y1="590.80" x2="52.20" y2="625.10" stroke="#111" stroke-width="1.45"/>
<text x="43.40" y="608.40" font-size="8.8" text-anchor="middle" dominant-baseline="central" fill="#181818" stroke="#181818" stroke-width="0.18" transform="rotate(-90 43.4 608.4)">Input</text>
<text x="136.40" y="636.80" font-size="8.8" text-anchor="start" dominant-baseline="central" fill="#181818" stroke="#181818" stroke-width="0.18">+MG132</text>
<text x="215.10" y="451.40" font-size="17" font-weight="bold" fill="#111">H</text>
<text x="276.00" y="455.20" font-size="10.2" text-anchor="middle" dominant-baseline="central" fill="#181818" stroke="#181818" stroke-width="0.18">WT</text>
<rect x="242.30" y="465.65" width="9.00" height="1.90" fill="#111"/>
<polygon points="265.20,470.60 291.00,470.60 291.00,462.00" fill="#1a1a1a"/>
<rect x="235.60" y="475.20" width="62.00" height="18.80" fill="#e8e8e8"/>
<g clip-path="none">
<rect x="259.38" y="483.16" width="14.64" height="2.88" rx="1.44" fill="#161616" opacity="0.90" filter="url(#b1)"/>
<rect x="278.67" y="482.80" width="15.86" height="3.60" rx="1.80" fill="#161616" opacity="1.00" filter="url(#b1)"/>
</g>
<rect x="235.60" y="475.20" width="62.00" height="18.80" fill="none" stroke="#2e2e2e" stroke-width="1"/>
<rect x="235.60" y="496.00" width="62.00" height="19.40" fill="#e4e4e4"/>
<g clip-path="none">
<rect x="239.48" y="503.26" width="14.64" height="2.88" rx="1.44" fill="#161616" opacity="0.95" filter="url(#b1)"/>
<rect x="259.99" y="504.50" width="13.42" height="2.40" rx="1.20" fill="#161616" opacity="0.45" filter="url(#b1)"/>
</g>
<rect x="235.60" y="496.00" width="62.00" height="19.40" fill="none" stroke="#2e2e2e" stroke-width="1"/>
<rect x="235.60" y="517.40" width="62.00" height="18.60" fill="#dcdcdc"/>
<g clip-path="none">
<rect x="236.55" y="525.00" width="20.50" height="4.60" rx="2.30" fill="#161616" opacity="1.00" filter="url(#b1)"/>
<rect x="256.45" y="525.00" width="20.50" height="4.60" rx="2.30" fill="#161616" opacity="1.00" filter="url(#b1)"/>
<rect x="276.35" y="525.00" width="20.50" height="4.60" rx="2.30" fill="#161616" opacity="1.00" filter="url(#b1)"/>
</g>
<rect x="235.60" y="517.40" width="62.00" height="18.60" fill="none" stroke="#2e2e2e" stroke-width="1"/>
<text x="347.80" y="455.20" font-size="10.2" text-anchor="middle" dominant-baseline="central" fill="#181818" stroke="#181818" stroke-width="0.18">G333C</text>
<rect x="313.30" y="465.65" width="9.00" height="1.90" fill="#111"/>
<polygon points="336.10,470.60 361.80,470.60 361.80,462.00" fill="#1a1a1a"/>
<rect x="306.60" y="475.20" width="61.80" height="18.80" fill="#e8e8e8"/>
<g clip-path="none">
<rect x="330.89" y="483.40" width="13.42" height="2.40" rx="1.20" fill="#161616" opacity="0.45" filter="url(#b1)"/>
<rect x="349.47" y="482.56" width="15.86" height="4.08" rx="2.04" fill="#161616" opacity="1.00" filter="url(#b1)"/>
</g>
<rect x="306.60" y="475.20" width="61.80" height="18.80" fill="none" stroke="#2e2e2e" stroke-width="1"/>
<rect x="306.60" y="496.00" width="61.80" height="19.40" fill="#e4e4e4"/>
<g clip-path="none">
<rect x="310.48" y="504.02" width="14.64" height="3.36" rx="1.68" fill="#161616" opacity="0.95" filter="url(#b1)"/>
<rect x="330.28" y="504.02" width="14.64" height="3.36" rx="1.68" fill="#161616" opacity="0.95" filter="url(#b1)"/>
<rect x="350.08" y="504.02" width="14.64" height="3.36" rx="1.68" fill="#161616" opacity="0.95" filter="url(#b1)"/>
</g>
<rect x="306.60" y="496.00" width="61.80" height="19.40" fill="none" stroke="#2e2e2e" stroke-width="1"/>
<rect x="306.60" y="517.40" width="61.80" height="18.60" fill="#dcdcdc"/>
<g clip-path="none">
<rect x="309.05" y="525.00" width="17.50" height="4.60" rx="2.30" fill="#161616" opacity="1.00" filter="url(#b1)"/>
<rect x="328.85" y="525.00" width="17.50" height="4.60" rx="2.30" fill="#161616" opacity="1.00" filter="url(#b1)"/>
<rect x="348.65" y="525.00" width="17.50" height="4.60" rx="2.30" fill="#161616" opacity="1.00" filter="url(#b1)"/>
</g>
<rect x="306.60" y="517.40" width="61.80" height="18.60" fill="none" stroke="#2e2e2e" stroke-width="1"/>
<text x="420.20" y="455.20" font-size="10.2" text-anchor="middle" dominant-baseline="central" fill="#181818" stroke="#181818" stroke-width="0.18">R554Q</text>
<rect x="382.90" y="465.65" width="9.00" height="1.90" fill="#111"/>
<polygon points="405.60,470.60 431.20,470.60 431.20,462.00" fill="#1a1a1a"/>
<rect x="376.20" y="475.20" width="61.60" height="18.80" fill="#e8e8e8"/>
<g clip-path="none">
<rect x="399.17" y="482.80" width="15.86" height="3.60" rx="1.80" fill="#161616" opacity="1.00" filter="url(#b1)"/>
<rect x="418.87" y="482.32" width="15.86" height="4.56" rx="2.28" fill="#161616" opacity="1.00" filter="url(#b1)"/>
</g>
<rect x="376.20" y="475.20" width="61.60" height="18.80" fill="none" stroke="#2e2e2e" stroke-width="1"/>
<text x="442.90" y="485.00" font-size="8.5" text-anchor="start" dominant-baseline="central" fill="#181818" stroke="#181818" stroke-width="0.18" font-weight="bold">Keap1</text>
<rect x="376.20" y="496.00" width="61.60" height="19.40" fill="#e4e4e4"/>
<g clip-path="none">
<rect x="380.08" y="504.02" width="14.64" height="3.36" rx="1.68" fill="#161616" opacity="0.95" filter="url(#b1)"/>
<rect x="399.78" y="504.02" width="14.64" height="3.36" rx="1.68" fill="#161616" opacity="0.95" filter="url(#b1)"/>
<rect x="419.48" y="504.02" width="14.64" height="3.36" rx="1.68" fill="#161616" opacity="0.95" filter="url(#b1)"/>
</g>
<rect x="376.20" y="496.00" width="61.60" height="19.40" fill="none" stroke="#2e2e2e" stroke-width="1"/>
<text x="442.90" y="506.10" font-size="8.6" text-anchor="start" dominant-baseline="central" fill="#181818" stroke="#181818" stroke-width="0.18">CHD6</text>
<rect x="376.20" y="517.40" width="61.60" height="18.60" fill="#dcdcdc"/>
<g clip-path="none">
<rect x="378.65" y="525.00" width="17.50" height="4.60" rx="2.30" fill="#161616" opacity="1.00" filter="url(#b1)"/>
<rect x="398.35" y="525.00" width="17.50" height="4.60" rx="2.30" fill="#161616" opacity="1.00" filter="url(#b1)"/>
<rect x="418.05" y="525.00" width="17.50" height="4.60" rx="2.30" fill="#161616" opacity="1.00" filter="url(#b1)"/>
</g>
<rect x="376.20" y="517.40" width="61.60" height="18.60" fill="none" stroke="#2e2e2e" stroke-width="1"/>
<text x="442.90" y="527.10" font-size="8.6" text-anchor="start" dominant-baseline="central" fill="#181818" stroke="#181818" stroke-width="0.18">GAPDH</text>
<text x="278.40" y="553.20" font-size="10.2" text-anchor="middle" dominant-baseline="central" fill="#181818" stroke="#181818" stroke-width="0.18">W544C</text>
<rect x="242.20" y="564.15" width="9.00" height="1.90" fill="#111"/>
<polygon points="265.25,568.90 291.20,568.90 291.20,559.90" fill="#1a1a1a"/>
<rect x="235.50" y="573.70" width="62.30" height="18.70" fill="#e8e8e8"/>
<g clip-path="none">
<rect x="259.43" y="581.49" width="14.64" height="3.12" rx="1.56" fill="#161616" opacity="0.90" filter="url(#b1)"/>
<rect x="278.87" y="580.89" width="15.86" height="4.32" rx="2.16" fill="#161616" opacity="1.00" filter="url(#b1)"/>
</g>
<rect x="235.50" y="573.70" width="62.30" height="18.70" fill="none" stroke="#2e2e2e" stroke-width="1"/>
<rect x="235.50" y="595.00" width="62.30" height="17.90" fill="#e4e4e4"/>
<g clip-path="none">
<rect x="239.38" y="602.27" width="14.64" height="3.36" rx="1.68" fill="#161616" opacity="0.95" filter="url(#b1)"/>
<rect x="259.43" y="602.27" width="14.64" height="3.36" rx="1.68" fill="#161616" opacity="0.95" filter="url(#b1)"/>
<rect x="279.48" y="602.27" width="14.64" height="3.36" rx="1.68" fill="#161616" opacity="0.95" filter="url(#b1)"/>
</g>
<rect x="235.50" y="595.00" width="62.30" height="17.90" fill="none" stroke="#2e2e2e" stroke-width="1"/>
<rect x="235.50" y="615.50" width="62.30" height="17.90" fill="#dcdcdc"/>
<g clip-path="none">
<rect x="237.95" y="623.45" width="17.50" height="3.20" rx="1.60" fill="#161616" opacity="1.00" filter="url(#b1)"/>
<rect x="258.00" y="623.45" width="17.50" height="3.20" rx="1.60" fill="#161616" opacity="1.00" filter="url(#b1)"/>
<rect x="278.05" y="623.45" width="17.50" height="3.20" rx="1.60" fill="#161616" opacity="1.00" filter="url(#b1)"/>
</g>
<rect x="235.50" y="615.50" width="62.30" height="17.90" fill="none" stroke="#2e2e2e" stroke-width="1"/>
<text x="348.60" y="553.20" font-size="10.2" text-anchor="middle" dominant-baseline="central" fill="#181818" stroke="#181818" stroke-width="0.18">D479Q</text>
<rect x="312.00" y="564.15" width="9.00" height="1.90" fill="#111"/>
<polygon points="334.70,568.90 360.30,568.90 360.30,559.90" fill="#1a1a1a"/>
<rect x="305.30" y="573.70" width="61.60" height="18.70" fill="#e8e8e8"/>
<g clip-path="none">
<rect x="328.88" y="581.49" width="14.64" height="3.12" rx="1.56" fill="#161616" opacity="0.85" filter="url(#b1)"/>
<rect x="347.36" y="580.65" width="17.08" height="4.80" rx="2.40" fill="#161616" opacity="1.00" filter="url(#b1)"/>
</g>
<rect x="305.30" y="573.70" width="61.60" height="18.70" fill="none" stroke="#2e2e2e" stroke-width="1"/>
<text x="371.30" y="583.45" font-size="8.5" text-anchor="start" dominant-baseline="central" fill="#181818" stroke="#181818" stroke-width="0.18">Keap1</text>
<rect x="305.30" y="595.00" width="61.60" height="17.90" fill="#e4e4e4"/>
<g clip-path="none">
<rect x="309.18" y="602.27" width="14.64" height="3.36" rx="1.68" fill="#161616" opacity="0.95" filter="url(#b1)"/>
<rect x="328.88" y="602.27" width="14.64" height="3.36" rx="1.68" fill="#161616" opacity="0.95" filter="url(#b1)"/>
<rect x="348.58" y="602.27" width="14.64" height="3.36" rx="1.68" fill="#161616" opacity="0.95" filter="url(#b1)"/>
</g>
<rect x="305.30" y="595.00" width="61.60" height="17.90" fill="none" stroke="#2e2e2e" stroke-width="1"/>
<text x="371.30" y="604.35" font-size="8.6" text-anchor="start" dominant-baseline="central" fill="#181818" stroke="#181818" stroke-width="0.18">CHD6</text>
<rect x="305.30" y="615.50" width="61.60" height="17.90" fill="#dcdcdc"/>
<g clip-path="none">
<rect x="307.25" y="623.35" width="18.50" height="3.40" rx="1.70" fill="#161616" opacity="1.00" filter="url(#b1)"/>
<rect x="326.95" y="623.35" width="18.50" height="3.40" rx="1.70" fill="#161616" opacity="1.00" filter="url(#b1)"/>
<rect x="346.65" y="623.35" width="18.50" height="3.40" rx="1.70" fill="#161616" opacity="1.00" filter="url(#b1)"/>
</g>
<rect x="305.30" y="615.50" width="61.60" height="17.90" fill="none" stroke="#2e2e2e" stroke-width="1"/>
<text x="371.30" y="624.85" font-size="8.6" text-anchor="start" dominant-baseline="central" fill="#181818" stroke="#181818" stroke-width="0.18">GAPDH</text>
<text x="484.6" y="450.6" font-size="16.5" font-weight="bold" fill="#111">I</text>
<text x="499.60" y="466.70" font-size="10.5" text-anchor="start" dominant-baseline="central" fill="#181818" stroke="#181818" stroke-width="0.18">CHD6 domains</text>
<line x1="520.00" y1="484.70" x2="520.00" y2="617.20" stroke="#888" stroke-width="0.8"/>
<line x1="516.00" y1="484.70" x2="520.00" y2="484.70" stroke="#888" stroke-width="0.8"/>
<line x1="517.50" y1="494.46" x2="520.00" y2="494.46" stroke="#888" stroke-width="0.8"/>
<line x1="516.00" y1="504.22" x2="520.00" y2="504.22" stroke="#888" stroke-width="0.8"/>
<line x1="517.50" y1="513.98" x2="520.00" y2="513.98" stroke="#888" stroke-width="0.8"/>
<line x1="516.00" y1="523.74" x2="520.00" y2="523.74" stroke="#888" stroke-width="0.8"/>
<line x1="517.50" y1="533.50" x2="520.00" y2="533.50" stroke="#888" stroke-width="0.8"/>
<line x1="516.00" y1="543.26" x2="520.00" y2="543.26" stroke="#888" stroke-width="0.8"/>
<line x1="517.50" y1="553.02" x2="520.00" y2="553.02" stroke="#888" stroke-width="0.8"/>
<line x1="516.00" y1="562.78" x2="520.00" y2="562.78" stroke="#888" stroke-width="0.8"/>
<line x1="517.50" y1="572.55" x2="520.00" y2="572.55" stroke="#888" stroke-width="0.8"/>
<line x1="516.00" y1="582.31" x2="520.00" y2="582.31" stroke="#888" stroke-width="0.8"/>
<line x1="517.50" y1="592.07" x2="520.00" y2="592.07" stroke="#888" stroke-width="0.8"/>
<line x1="516.00" y1="601.83" x2="520.00" y2="601.83" stroke="#888" stroke-width="0.8"/>
<line x1="517.50" y1="611.59" x2="520.00" y2="611.59" stroke="#888" stroke-width="0.8"/>
<line x1="516.00" y1="617.20" x2="520.00" y2="617.20" stroke="#888" stroke-width="0.8"/>
<text x="513.60" y="484.70" font-size="8.6" text-anchor="end" dominant-baseline="central" fill="#181818" stroke="#181818" stroke-width="0.18" letter-spacing="0.3">0</text>
<text x="513.60" y="504.22" font-size="8.6" text-anchor="end" dominant-baseline="central" fill="#181818" stroke="#181818" stroke-width="0.18" letter-spacing="0.3">400</text>
<text x="513.60" y="523.74" font-size="8.6" text-anchor="end" dominant-baseline="central" fill="#181818" stroke="#181818" stroke-width="0.18" letter-spacing="0.3">800</text>
<text x="513.60" y="543.26" font-size="8.6" text-anchor="end" dominant-baseline="central" fill="#181818" stroke="#181818" stroke-width="0.18" letter-spacing="0.3">1200</text>
<text x="513.60" y="562.78" font-size="8.6" text-anchor="end" dominant-baseline="central" fill="#181818" stroke="#181818" stroke-width="0.18" letter-spacing="0.3">1600</text>
<text x="513.60" y="582.31" font-size="8.6" text-anchor="end" dominant-baseline="central" fill="#181818" stroke="#181818" stroke-width="0.18" letter-spacing="0.3">2000</text>
<text x="513.60" y="601.83" font-size="8.6" text-anchor="end" dominant-baseline="central" fill="#181818" stroke="#181818" stroke-width="0.18" letter-spacing="0.3">2400</text>
<text x="513.60" y="617.20" font-size="8.6" text-anchor="end" dominant-baseline="central" fill="#181818" stroke="#181818" stroke-width="0.18" letter-spacing="0.3">2715</text>
<text x="513.90" y="626.30" font-size="9.8" text-anchor="end" dominant-baseline="central" fill="#181818" stroke="#181818" stroke-width="0.18">aa</text>
<rect x="528.60" y="484.70" width="10.70" height="132.50" fill="#d3b48e"/>
<rect x="524.70" y="498.80" width="19.30" height="2.00" fill="#1a9a48"/>
<rect x="524.70" y="503.40" width="19.30" height="2.00" fill="#1a9a48"/>
<rect x="524.70" y="507.90" width="19.30" height="13.30" fill="#ec6454"/>
<rect x="524.70" y="524.90" width="19.30" height="3.20" fill="#4f5fae"/>
<rect x="524.70" y="601.60" width="19.30" height="2.00" fill="#f2e21e"/>
<line x1="545.60" y1="503.30" x2="554.90" y2="505.60" stroke="#c8262e" stroke-width="0.8"/>
<text x="557.90" y="504.90" font-size="8.8" text-anchor="start" dominant-baseline="central" fill="#c8262e" stroke="#c8262e" stroke-width="0.18">G392V</text>
<line x1="548.40" y1="515.60" x2="558.80" y2="527.70" stroke="#222" stroke-width="0.8"/>
<text x="560.70" y="528.40" font-size="8.8" text-anchor="start" dominant-baseline="central" fill="#181818" stroke="#181818" stroke-width="0.18">SNF2</text>
<line x1="545.60" y1="528.80" x2="556.70" y2="546.30" stroke="#222" stroke-width="0.8"/>
<text x="542.80" y="556.30" font-size="8.8" text-anchor="start" dominant-baseline="central" fill="#181818" stroke="#181818" stroke-width="0.18">Helicase_C</text>
<line x1="545.60" y1="603.30" x2="554.90" y2="609.00" stroke="#222" stroke-width="0.8"/>
<text x="560.20" y="612.60" font-size="8.8" text-anchor="start" dominant-baseline="central" fill="#181818" stroke="#181818" stroke-width="0.18">BRK</text>
<text x="599.90" y="453.30" font-size="17" font-weight="bold" fill="#111">J</text>
<text x="692.60" y="459.10" font-size="10" text-anchor="middle" dominant-baseline="central" fill="#181818" stroke="#181818" stroke-width="0.18">Flag-CHD6</text>
<line x1="668.30" y1="467.30" x2="716.60" y2="467.30" stroke="#444" stroke-width="1"/>
<text x="656.70" y="498.80" font-size="8.4" fill="#181818" stroke="#181818" stroke-width="0.18" transform="rotate(-90 656.70 498.80)">EV</text>
<text x="674.60" y="498.80" font-size="8.4" fill="#181818" stroke="#181818" stroke-width="0.18" transform="rotate(-90 674.60 498.80)">WT</text>
<text x="693.20" y="498.80" font-size="8.4" fill="#181818" stroke="#181818" stroke-width="0.18" transform="rotate(-90 693.20 498.80)">G392V</text>
<text x="600.50" y="509.10" font-size="8.8" text-anchor="start" dominant-baseline="central" fill="#181818" stroke="#181818" stroke-width="0.18">Myc-Keap1</text>
<rect x="650.50" y="508.65" width="6.00" height="1.50" fill="#111"/>
<rect x="652.75" y="506.40" width="1.50" height="6.00" fill="#111"/>
<rect x="668.40" y="508.65" width="6.00" height="1.50" fill="#111"/>
<rect x="670.65" y="506.40" width="1.50" height="6.00" fill="#111"/>
<rect x="687.00" y="508.65" width="6.00" height="1.50" fill="#111"/>
<rect x="689.25" y="506.40" width="1.50" height="6.00" fill="#111"/>
<rect x="639.70" y="520.10" width="62.20" height="20.00" fill="#e0e0e0"/>
<g clip-path="none">
<rect x="664.65" y="527.80" width="14.50" height="5.20" rx="2.60" fill="#161616" opacity="1.00" filter="url(#b1)"/>
<rect x="683.50" y="528.10" width="15.00" height="4.60" rx="2.30" fill="#161616" opacity="1.00" filter="url(#b1)"/>
</g>
<rect x="639.70" y="520.10" width="62.20" height="20.00" fill="none" stroke="#2e2e2e" stroke-width="1"/>
<rect x="639.70" y="544.00" width="62.20" height="19.70" fill="#b9b9b9"/>
<g clip-path="none">
<rect x="663.75" y="550.40" width="15.50" height="3.40" rx="1.70" fill="#161616" opacity="1.00" filter="url(#b1)"/>
<rect x="663.45" y="549.60" width="3.50" height="5.00" rx="1.75" fill="#161616" opacity="0.70" filter="url(#b1)"/>
</g>
<rect x="639.70" y="544.00" width="62.20" height="19.70" fill="none" stroke="#2e2e2e" stroke-width="1"/>
<rect x="639.70" y="569.50" width="62.20" height="19.80" fill="#dedede"/>
<g clip-path="none">
<rect x="666.00" y="577.10" width="13.60" height="3.60" rx="1.80" fill="#161616" opacity="0.95" filter="url(#b1)"/>
<rect x="685.20" y="576.40" width="14.00" height="5.00" rx="2.50" fill="#161616" opacity="1.00" filter="url(#b1)"/>
</g>
<rect x="639.70" y="569.50" width="62.20" height="19.80" fill="none" stroke="#2e2e2e" stroke-width="1"/>
<rect x="639.70" y="593.30" width="62.20" height="20.00" fill="#a8a8a8"/>
<g clip-path="none">
<rect x="644.30" y="600.00" width="14.20" height="4.60" rx="2.30" fill="#161616" opacity="1.00" filter="url(#b1)"/>
<rect x="663.30" y="600.20" width="15.20" height="4.60" rx="2.30" fill="#161616" opacity="1.00" filter="url(#b1)"/>
<rect x="683.10" y="600.20" width="15.80" height="4.60" rx="2.30" fill="#161616" opacity="1.00" filter="url(#b1)"/>
<rect x="643.95" y="599.50" width="2.50" height="5.60" rx="1.25" fill="#161616" opacity="0.55" filter="url(#b1)"/>
<rect x="696.35" y="599.70" width="2.50" height="5.60" rx="1.25" fill="#161616" opacity="0.55" filter="url(#b1)"/>
</g>
<rect x="639.70" y="593.30" width="62.20" height="20.00" fill="none" stroke="#2e2e2e" stroke-width="1"/>
<text x="704.40" y="531.20" font-size="8.8" text-anchor="start" dominant-baseline="central" fill="#181818" stroke="#181818" stroke-width="0.18">anti-Flag</text>
<text x="704.40" y="555.60" font-size="8.8" text-anchor="start" dominant-baseline="central" fill="#181818" stroke="#181818" stroke-width="0.18">anti-Myc</text>
<text x="704.40" y="580.00" font-size="8.8" text-anchor="start" dominant-baseline="central" fill="#181818" stroke="#181818" stroke-width="0.18">anti-Flag</text>
<text x="704.40" y="603.30" font-size="8.8" text-anchor="start" dominant-baseline="central" fill="#181818" stroke="#181818" stroke-width="0.18">anti-Myc</text>
<line x1="631.90" y1="524.20" x2="631.90" y2="560.20" stroke="#111" stroke-width="1.45"/>
<text x="621.40" y="542.80" font-size="8.8" text-anchor="middle" dominant-baseline="central" fill="#181818" stroke="#181818" stroke-width="0.18" transform="rotate(-90 621.4 542.8)">IP: Flag</text>
<line x1="631.90" y1="576.00" x2="631.90" y2="612.60" stroke="#111" stroke-width="1.45"/>
<text x="621.40" y="594.00" font-size="8.8" text-anchor="middle" dominant-baseline="central" fill="#181818" stroke="#181818" stroke-width="0.18" transform="rotate(-90 621.4 594)">Input</text>
<text x="19.30" y="666.20" font-size="17" font-weight="bold" fill="#111">K</text>
<text x="80.70" y="672.30" font-size="8.8" text-anchor="middle" dominant-baseline="central" fill="#181818" stroke="#181818" stroke-width="0.18">WT</text>
<text x="117.30" y="672.30" font-size="8.8" text-anchor="middle" dominant-baseline="central" fill="#181818" stroke="#181818" stroke-width="0.18">G392V</text>
<polyline points="71.30,692.20 71.30,684.00 91.50,684.00 91.50,692.20" stroke="#333" stroke-width="1" fill="none"/>
<polyline points="108.00,692.20 108.00,684.00 127.60,684.00 127.60,692.20" stroke="#333" stroke-width="1" fill="none"/>
<text x="14.70" y="702.50" font-size="8.8" text-anchor="start" dominant-baseline="central" fill="#181818" stroke="#181818" stroke-width="0.18">Myc-Keap1</text>
<rect x="68.40" y="701.70" width="7.00" height="1.60" fill="#111"/>
<rect x="88.50" y="701.75" width="6.00" height="1.50" fill="#111"/>
<rect x="90.75" y="699.50" width="1.50" height="6.00" fill="#111"/>
<rect x="105.60" y="701.70" width="7.00" height="1.60" fill="#111"/>
<rect x="124.00" y="701.75" width="6.00" height="1.50" fill="#111"/>
<rect x="126.25" y="699.50" width="1.50" height="6.00" fill="#111"/>
<text x="14.10" y="718.60" font-size="8.8" text-anchor="start" dominant-baseline="central" fill="#181818" stroke="#181818" stroke-width="0.18">Flag-CHD6</text>
<text x="31.70" y="734.50" font-size="8.8" text-anchor="start" dominant-baseline="central" fill="#181818" stroke="#181818" stroke-width="0.18">HA-Ub</text>
<rect x="68.90" y="717.85" width="6.00" height="1.50" fill="#111"/>
<rect x="71.15" y="715.60" width="1.50" height="6.00" fill="#111"/>
<rect x="68.90" y="733.75" width="6.00" height="1.50" fill="#111"/>
<rect x="71.15" y="731.50" width="1.50" height="6.00" fill="#111"/>
<rect x="88.50" y="717.85" width="6.00" height="1.50" fill="#111"/>
<rect x="90.75" y="715.60" width="1.50" height="6.00" fill="#111"/>
<rect x="88.50" y="733.75" width="6.00" height="1.50" fill="#111"/>
<rect x="90.75" y="731.50" width="1.50" height="6.00" fill="#111"/>
<rect x="106.10" y="717.85" width="6.00" height="1.50" fill="#111"/>
<rect x="108.35" y="715.60" width="1.50" height="6.00" fill="#111"/>
<rect x="106.10" y="733.75" width="6.00" height="1.50" fill="#111"/>
<rect x="108.35" y="731.50" width="1.50" height="6.00" fill="#111"/>
<rect x="124.00" y="717.85" width="6.00" height="1.50" fill="#111"/>
<rect x="126.25" y="715.60" width="1.50" height="6.00" fill="#111"/>
<rect x="124.00" y="733.75" width="6.00" height="1.50" fill="#111"/>
<rect x="126.25" y="731.50" width="1.50" height="6.00" fill="#111"/>
<linearGradient id="kg1" x1="0" y1="0" x2="0" y2="1"><stop offset="0" stop-color="#3c3c3c"/><stop offset="0.32" stop-color="#a8aaae"/><stop offset="1" stop-color="#b8bbbf"/></linearGradient>
<linearGradient id="kg3" x1="0" y1="0" x2="0" y2="1"><stop offset="0" stop-color="#555"/><stop offset="0.32" stop-color="#a8aaae"/><stop offset="1" stop-color="#babdc1"/></linearGradient>
<linearGradient id="kg4" x1="0" y1="0" x2="0" y2="1"><stop offset="0" stop-color="#2a2a2a"/><stop offset="0.3" stop-color="#9c9ea2"/><stop offset="1" stop-color="#b8bbbf"/></linearGradient>
<rect x="60.80" y="745.80" width="74.00" height="78.80" fill="#c6c9cc"/>
<rect x="66.40" y="746.30" width="14.40" height="77.80" fill="url(#kg1)" filter="url(#b2)"/>
<rect x="66.40" y="781.30" width="14.40" height="2.60" rx="1.30" fill="#333" opacity="0.35" filter="url(#b1)"/>
<rect x="66.40" y="794.40" width="14.40" height="2.20" rx="1.10" fill="#333" opacity="0.12" filter="url(#b1)"/>
<rect x="66.40" y="808.40" width="14.40" height="2.20" rx="1.10" fill="#333" opacity="0.10" filter="url(#b1)"/>
<rect x="100.60" y="746.30" width="14.40" height="77.80" fill="url(#kg3)" filter="url(#b2)"/>
<rect x="100.60" y="781.30" width="14.40" height="2.60" rx="1.30" fill="#333" opacity="0.35" filter="url(#b1)"/>
<rect x="100.60" y="794.40" width="14.40" height="2.20" rx="1.10" fill="#333" opacity="0.12" filter="url(#b1)"/>
<rect x="100.60" y="808.40" width="14.40" height="2.20" rx="1.10" fill="#333" opacity="0.10" filter="url(#b1)"/>
<rect x="119.80" y="746.30" width="13.60" height="77.80" fill="url(#kg4)" filter="url(#b2)"/>
<rect x="119.80" y="781.30" width="13.60" height="2.60" rx="1.30" fill="#333" opacity="0.35" filter="url(#b1)"/>
<rect x="119.80" y="794.40" width="13.60" height="2.20" rx="1.10" fill="#333" opacity="0.12" filter="url(#b1)"/>
<rect x="119.80" y="808.40" width="13.60" height="2.20" rx="1.10" fill="#333" opacity="0.10" filter="url(#b1)"/>
<rect x="83.00" y="790.00" width="14.40" height="34.00" fill="#a9acb0" filter="url(#b1)"/>
<path d="M83.2,745.8 L97,745.8 L97.4,770 L97.6,788 L96.8,792.5 L83.4,792.5 L81.6,788 L81.4,776 L83,768 Z" fill="#1c1212" filter="url(#b1)"/>
<rect x="82.75" y="793.80" width="14.50" height="3.60" rx="1.80" fill="#202020" opacity="0.85" filter="url(#b2)"/>
<rect x="82.75" y="800.80" width="14.50" height="3.60" rx="1.80" fill="#202020" opacity="0.80" filter="url(#b2)"/>
<rect x="83.4" y="806" width="13.6" height="9" fill="#444" opacity="0.7" filter="url(#b2)"/>
<ellipse cx="92.2" cy="767" rx="1.8" ry="1.5" fill="#999" filter="url(#b1)"/>
<rect x="60.80" y="745.80" width="74.00" height="78.80" fill="none"/>
<g clip-path="none">
</g>
<rect x="60.80" y="745.80" width="74.00" height="78.80" fill="none" stroke="#2e2e2e" stroke-width="1"/>
<line x1="52.60" y1="752.90" x2="52.60" y2="819.00" stroke="#111" stroke-width="1.45"/>
<text x="44.00" y="783.70" font-size="8.8" text-anchor="middle" dominant-baseline="central" fill="#181818" stroke="#181818" stroke-width="0.18" transform="rotate(-90 44 783.7)">IB:HA</text>
<text x="149.60" y="789.60" font-size="8.8" text-anchor="middle" dominant-baseline="central" fill="#181818" stroke="#181818" stroke-width="0.18" transform="rotate(-90 149.6 789.6)">(Ub)n&#160; -CHD6</text>
<rect x="60.80" y="832.20" width="74.80" height="20.40" fill="#e0e2e6"/>
<g clip-path="none">
<rect x="81.40" y="838.90" width="14.00" height="3.80" rx="1.90" fill="#161616" opacity="1.00" filter="url(#b1)"/>
<rect x="118.25" y="838.60" width="12.50" height="3.60" rx="1.80" fill="#161616" opacity="1.00" filter="url(#b1)"/>
</g>
<rect x="60.80" y="832.20" width="74.80" height="20.40" fill="none" stroke="#2e2e2e" stroke-width="1"/>
<rect x="60.80" y="862.40" width="74.80" height="20.80" fill="#cfcfcf"/>
<g clip-path="none">
<rect x="62.70" y="871.10" width="14.00" height="3.40" rx="1.70" fill="#161616" opacity="1.00" filter="url(#b1)"/>
<rect x="81.60" y="871.50" width="13.60" height="2.60" rx="1.30" fill="#161616" opacity="0.55" filter="url(#b1)"/>
<rect x="100.40" y="870.80" width="13.40" height="3.60" rx="1.80" fill="#161616" opacity="1.00" filter="url(#b1)"/>
<rect x="119.10" y="870.60" width="13.40" height="3.60" rx="1.80" fill="#161616" opacity="1.00" filter="url(#b1)"/>
</g>
<rect x="60.80" y="862.40" width="74.80" height="20.80" fill="none" stroke="#2e2e2e" stroke-width="1"/>
<text x="140.20" y="843.30" font-size="8.8" text-anchor="start" dominant-baseline="central" fill="#181818" stroke="#181818" stroke-width="0.18">anti-Myc</text>
<text x="140.20" y="871.70" font-size="8.8" text-anchor="start" dominant-baseline="central" fill="#181818" stroke="#181818" stroke-width="0.18">anti-Flag</text>
<line x1="52.60" y1="838.00" x2="52.60" y2="874.70" stroke="#111" stroke-width="1.45"/>
<text x="44.00" y="856.20" font-size="8.8" text-anchor="middle" dominant-baseline="central" fill="#181818" stroke="#181818" stroke-width="0.18" transform="rotate(-90 44 856.2)">Input</text>
<text x="101.20" y="892.30" font-size="8.8" text-anchor="start" dominant-baseline="central" fill="#181818" stroke="#181818" stroke-width="0.18">+MG132</text>
<text x="176.70" y="667.10" font-size="17" font-weight="bold" fill="#111">L</text>
<text x="202.30" y="673.30" font-size="8.8" text-anchor="start" dominant-baseline="central" fill="#181818" stroke="#181818" stroke-width="0.18">Myc-Keap1</text>
<rect x="255.50" y="672.70" width="7.00" height="1.60" fill="#111"/>
<polygon points="279.30,676.00 305.00,676.00 305.00,664.30" fill="#1a1a1a"/>
<rect x="321.50" y="672.70" width="7.00" height="1.60" fill="#111"/>
<polygon points="346.00,676.00 371.70,676.00 371.70,664.30" fill="#1a1a1a"/>
<text x="202.30" y="690.00" font-size="8.8" text-anchor="start" dominant-baseline="central" fill="#181818" stroke="#181818" stroke-width="0.18">Flag-CHD6</text>
<rect x="256.00" y="689.25" width="6.00" height="1.50" fill="#111"/>
<rect x="258.25" y="687.00" width="1.50" height="6.00" fill="#111"/>
<rect x="275.30" y="689.25" width="6.00" height="1.50" fill="#111"/>
<rect x="277.55" y="687.00" width="1.50" height="6.00" fill="#111"/>
<rect x="299.30" y="689.25" width="6.00" height="1.50" fill="#111"/>
<rect x="301.55" y="687.00" width="1.50" height="6.00" fill="#111"/>
<rect x="322.00" y="689.25" width="6.00" height="1.50" fill="#111"/>
<rect x="324.25" y="687.00" width="1.50" height="6.00" fill="#111"/>
<rect x="342.00" y="689.25" width="6.00" height="1.50" fill="#111"/>
<rect x="344.25" y="687.00" width="1.50" height="6.00" fill="#111"/>
<rect x="367.00" y="689.25" width="6.00" height="1.50" fill="#111"/>
<rect x="369.25" y="687.00" width="1.50" height="6.00" fill="#111"/>
<rect x="248.30" y="697.70" width="132.40" height="19.00" fill="#dcdcdc"/>
<g clip-path="none">
<rect x="251.25" y="705.90" width="13.50" height="2.60" rx="1.30" fill="#161616" opacity="0.70" filter="url(#b1)"/>
<rect x="270.10" y="705.40" width="15.00" height="3.00" rx="1.50" fill="#161616" opacity="0.88" filter="url(#b1)"/>
<rect x="293.80" y="704.70" width="17.00" height="3.80" rx="1.90" fill="#161616" opacity="1.00" filter="url(#b1)"/>
<rect x="316.80" y="705.90" width="15.00" height="2.60" rx="1.30" fill="#161616" opacity="0.70" filter="url(#b1)"/>
<rect x="337.90" y="705.20" width="15.00" height="3.00" rx="1.50" fill="#161616" opacity="0.85" filter="url(#b1)"/>
<rect x="358.80" y="703.90" width="17.00" height="4.20" rx="2.10" fill="#161616" opacity="1.00" filter="url(#b1)"/>
</g>
<rect x="248.30" y="697.70" width="132.40" height="19.00" fill="none" stroke="#2e2e2e" stroke-width="1"/>
<rect x="248.30" y="720.10" width="132.40" height="18.60" fill="#dcdcdc"/>
<g clip-path="none">
<rect x="251.45" y="727.90" width="16.30" height="3.80" rx="1.90" fill="#161616" opacity="1.00" filter="url(#b1)"/>
<rect x="271.95" y="728.30" width="16.30" height="3.00" rx="1.50" fill="#161616" opacity="0.85" filter="url(#b1)"/>
<rect x="317.35" y="727.20" width="15.70" height="3.40" rx="1.70" fill="#161616" opacity="1.00" filter="url(#b1)"/>
<rect x="338.30" y="727.10" width="16.80" height="3.60" rx="1.80" fill="#161616" opacity="1.00" filter="url(#b1)"/>
<rect x="359.80" y="727.20" width="16.80" height="3.60" rx="1.80" fill="#161616" opacity="1.00" filter="url(#b1)"/>
</g>
<rect x="248.30" y="720.10" width="132.40" height="18.60" fill="none" stroke="#2e2e2e" stroke-width="1"/>
<rect x="248.30" y="742.50" width="132.40" height="18.10" fill="#d4d4d4"/>
<g clip-path="none">
<rect x="249.70" y="749.80" width="19.20" height="5.20" rx="2.60" fill="#161616" opacity="1.00" filter="url(#b1)"/>
<rect x="272.05" y="749.90" width="18.70" height="5.00" rx="2.50" fill="#161616" opacity="1.00" filter="url(#b1)"/>
<rect x="293.90" y="749.70" width="19.20" height="5.40" rx="2.70" fill="#161616" opacity="1.00" filter="url(#b1)"/>
<rect x="315.00" y="749.90" width="19.60" height="5.00" rx="2.50" fill="#161616" opacity="1.00" filter="url(#b1)"/>
<rect x="337.40" y="749.90" width="19.20" height="5.00" rx="2.50" fill="#161616" opacity="1.00" filter="url(#b1)"/>
<rect x="359.15" y="749.50" width="19.30" height="5.40" rx="2.70" fill="#161616" opacity="1.00" filter="url(#b1)"/>
</g>
<rect x="248.30" y="742.50" width="132.40" height="18.10" fill="none" stroke="#2e2e2e" stroke-width="1"/>
<text x="384.00" y="707.30" font-size="8.8" text-anchor="start" dominant-baseline="central" fill="#181818" stroke="#181818" stroke-width="0.18">anti-Myc</text>
<text x="384.00" y="728.30" font-size="8.8" text-anchor="start" dominant-baseline="central" fill="#181818" stroke="#181818" stroke-width="0.18">anti-Flag</text>
<text x="384.00" y="750.00" font-size="8.8" text-anchor="start" dominant-baseline="central" fill="#181818" stroke="#181818" stroke-width="0.18">GAPDH</text>
<line x1="254.70" y1="764.60" x2="305.10" y2="764.60" stroke="#666" stroke-width="1.4"/>
<line x1="324.30" y1="764.60" x2="374.70" y2="764.60" stroke="#666" stroke-width="1.4"/>
<text x="280.00" y="771.00" font-size="8.8" text-anchor="middle" dominant-baseline="central" fill="#181818" stroke="#181818" stroke-width="0.18">WT</text>
<text x="348.30" y="771.00" font-size="8.8" text-anchor="middle" dominant-baseline="central" fill="#181818" stroke="#181818" stroke-width="0.18">G392V</text>
<line x1="253.70" y1="801.30" x2="253.70" y2="883.30" stroke="#333" stroke-width="1"/>
<line x1="253.70" y1="883.30" x2="382.00" y2="883.30" stroke="#333" stroke-width="1"/>
<line x1="249.00" y1="883.30" x2="253.70" y2="883.30" stroke="#333" stroke-width="1"/>
<text x="246.20" y="883.30" font-size="8" text-anchor="end" dominant-baseline="central" fill="#181818" stroke="#181818" stroke-width="0.18" letter-spacing="0.5">0</text>
<line x1="249.00" y1="855.97" x2="253.70" y2="855.97" stroke="#333" stroke-width="1"/>
<text x="246.20" y="855.97" font-size="8" text-anchor="end" dominant-baseline="central" fill="#181818" stroke="#181818" stroke-width="0.18" letter-spacing="0.5">40</text>
<line x1="249.00" y1="828.63" x2="253.70" y2="828.63" stroke="#333" stroke-width="1"/>
<text x="246.20" y="828.63" font-size="8" text-anchor="end" dominant-baseline="central" fill="#181818" stroke="#181818" stroke-width="0.18" letter-spacing="0.5">80</text>
<line x1="249.00" y1="801.30" x2="253.70" y2="801.30" stroke="#333" stroke-width="1"/>
<text x="246.20" y="801.30" font-size="8" text-anchor="end" dominant-baseline="central" fill="#181818" stroke="#181818" stroke-width="0.18" letter-spacing="0.5">120</text>
<line x1="253.70" y1="883.30" x2="253.70" y2="887.30" stroke="#333" stroke-width="1"/>
<text x="253.70" y="895.00" font-size="8" text-anchor="middle" dominant-baseline="central" fill="#181818" stroke="#181818" stroke-width="0.18" letter-spacing="0.5">0</text>
<line x1="279.00" y1="883.30" x2="279.00" y2="887.30" stroke="#333" stroke-width="1"/>
<text x="279.00" y="895.00" font-size="8" text-anchor="middle" dominant-baseline="central" fill="#181818" stroke="#181818" stroke-width="0.18" letter-spacing="0.5">6</text>
<line x1="304.30" y1="883.30" x2="304.30" y2="887.30" stroke="#333" stroke-width="1"/>
<text x="304.30" y="895.00" font-size="8" text-anchor="middle" dominant-baseline="central" fill="#181818" stroke="#181818" stroke-width="0.18" letter-spacing="0.5">12</text>
<line x1="329.60" y1="883.30" x2="329.60" y2="887.30" stroke="#333" stroke-width="1"/>
<text x="329.60" y="895.00" font-size="8" text-anchor="middle" dominant-baseline="central" fill="#181818" stroke="#181818" stroke-width="0.18" letter-spacing="0.5">18</text>
<line x1="354.90" y1="883.30" x2="354.90" y2="887.30" stroke="#333" stroke-width="1"/>
<text x="354.90" y="895.00" font-size="8" text-anchor="middle" dominant-baseline="central" fill="#181818" stroke="#181818" stroke-width="0.18" letter-spacing="0.5">24</text>
<line x1="380.20" y1="883.30" x2="380.20" y2="887.30" stroke="#333" stroke-width="1"/>
<text x="380.20" y="895.00" font-size="8" text-anchor="middle" dominant-baseline="central" fill="#181818" stroke="#181818" stroke-width="0.18" letter-spacing="0.5">30</text>
<text x="391.70" y="895.50" font-size="8.6" text-anchor="middle" dominant-baseline="central" fill="#181818" stroke="#181818" stroke-width="0.18">h</text>
<text x="223.70" y="841.90" font-size="8.9" text-anchor="middle" dominant-baseline="central" fill="#181818" stroke="#181818" stroke-width="0.18" transform="rotate(-90 223.7 841.9)">CHD6 remaining (%)</text>
<polyline points="253.70,817.02 279.00,821.80 304.30,825.90 329.60,834.78 354.90,844.35 380.20,848.45" stroke="#b8913e" stroke-width="1.3" fill="none"/>
<line x1="253.70" y1="819.75" x2="253.70" y2="814.28" stroke="#b8913e" stroke-width="1"/>
<line x1="251.50" y1="814.28" x2="255.90" y2="814.28" stroke="#b8913e" stroke-width="1"/>
<line x1="251.50" y1="819.75" x2="255.90" y2="819.75" stroke="#b8913e" stroke-width="1"/>
<circle cx="253.70" cy="817.02" r="2.7" fill="#b8913e"/>
<line x1="279.00" y1="827.95" x2="279.00" y2="815.65" stroke="#b8913e" stroke-width="1"/>
<line x1="276.80" y1="815.65" x2="281.20" y2="815.65" stroke="#b8913e" stroke-width="1"/>
<line x1="276.80" y1="827.95" x2="281.20" y2="827.95" stroke="#b8913e" stroke-width="1"/>
<circle cx="279.00" cy="821.80" r="2.7" fill="#b8913e"/>
<line x1="304.30" y1="832.73" x2="304.30" y2="819.07" stroke="#b8913e" stroke-width="1"/>
<line x1="302.10" y1="819.07" x2="306.50" y2="819.07" stroke="#b8913e" stroke-width="1"/>
<line x1="302.10" y1="832.73" x2="306.50" y2="832.73" stroke="#b8913e" stroke-width="1"/>
<circle cx="304.30" cy="825.90" r="2.7" fill="#b8913e"/>
<line x1="329.60" y1="842.98" x2="329.60" y2="826.58" stroke="#b8913e" stroke-width="1"/>
<line x1="327.40" y1="826.58" x2="331.80" y2="826.58" stroke="#b8913e" stroke-width="1"/>
<line x1="327.40" y1="842.98" x2="331.80" y2="842.98" stroke="#b8913e" stroke-width="1"/>
<circle cx="329.60" cy="834.78" r="2.7" fill="#b8913e"/>
<line x1="354.90" y1="851.18" x2="354.90" y2="837.52" stroke="#b8913e" stroke-width="1"/>
<line x1="352.70" y1="837.52" x2="357.10" y2="837.52" stroke="#b8913e" stroke-width="1"/>
<line x1="352.70" y1="851.18" x2="357.10" y2="851.18" stroke="#b8913e" stroke-width="1"/>
<circle cx="354.90" cy="844.35" r="2.7" fill="#b8913e"/>
<line x1="380.20" y1="853.92" x2="380.20" y2="842.98" stroke="#b8913e" stroke-width="1"/>
<line x1="378.00" y1="842.98" x2="382.40" y2="842.98" stroke="#b8913e" stroke-width="1"/>
<line x1="378.00" y1="853.92" x2="382.40" y2="853.92" stroke="#b8913e" stroke-width="1"/>
<circle cx="380.20" cy="848.45" r="2.7" fill="#b8913e"/>
<polyline points="253.70,818.38 279.00,840.25 304.30,856.65 329.60,873.73 354.90,877.15 380.20,878.52" stroke="#111" stroke-width="1.3" fill="none"/>
<line x1="253.70" y1="820.43" x2="253.70" y2="816.33" stroke="#111" stroke-width="1"/>
<line x1="251.50" y1="816.33" x2="255.90" y2="816.33" stroke="#111" stroke-width="1"/>
<line x1="251.50" y1="820.43" x2="255.90" y2="820.43" stroke="#111" stroke-width="1"/>
<circle cx="253.70" cy="818.38" r="2.7" fill="#111"/>
<line x1="279.00" y1="845.03" x2="279.00" y2="835.47" stroke="#111" stroke-width="1"/>
<line x1="276.80" y1="835.47" x2="281.20" y2="835.47" stroke="#111" stroke-width="1"/>
<line x1="276.80" y1="845.03" x2="281.20" y2="845.03" stroke="#111" stroke-width="1"/>
<circle cx="279.00" cy="840.25" r="2.7" fill="#111"/>
<line x1="304.30" y1="862.80" x2="304.30" y2="850.50" stroke="#111" stroke-width="1"/>
<line x1="302.10" y1="850.50" x2="306.50" y2="850.50" stroke="#111" stroke-width="1"/>
<line x1="302.10" y1="862.80" x2="306.50" y2="862.80" stroke="#111" stroke-width="1"/>
<circle cx="304.30" cy="856.65" r="2.7" fill="#111"/>
<line x1="329.60" y1="879.88" x2="329.60" y2="867.58" stroke="#111" stroke-width="1"/>
<line x1="327.40" y1="867.58" x2="331.80" y2="867.58" stroke="#111" stroke-width="1"/>
<line x1="327.40" y1="879.88" x2="331.80" y2="879.88" stroke="#111" stroke-width="1"/>
<circle cx="329.60" cy="873.73" r="2.7" fill="#111"/>
<line x1="354.90" y1="880.57" x2="354.90" y2="873.73" stroke="#111" stroke-width="1"/>
<line x1="352.70" y1="873.73" x2="357.10" y2="873.73" stroke="#111" stroke-width="1"/>
<line x1="352.70" y1="880.57" x2="357.10" y2="880.57" stroke="#111" stroke-width="1"/>
<circle cx="354.90" cy="877.15" r="2.7" fill="#111"/>
<line x1="380.20" y1="881.93" x2="380.20" y2="875.10" stroke="#111" stroke-width="1"/>
<line x1="378.00" y1="875.10" x2="382.40" y2="875.10" stroke="#111" stroke-width="1"/>
<line x1="378.00" y1="881.93" x2="382.40" y2="881.93" stroke="#111" stroke-width="1"/>
<circle cx="380.20" cy="878.52" r="2.7" fill="#111"/>
<line x1="326.00" y1="794.00" x2="338.30" y2="794.00" stroke="#111" stroke-width="1.3"/>
<circle cx="332" cy="794" r="2.7" fill="#111"/>
<text x="342.70" y="794.00" font-size="8.9" text-anchor="start" dominant-baseline="central" fill="#181818" stroke="#181818" stroke-width="0.18">CHD6-WT</text>
<line x1="326.00" y1="806.00" x2="338.30" y2="806.00" stroke="#b8913e" stroke-width="1.3"/>
<circle cx="332" cy="806" r="2.7" fill="#b8913e"/>
<text x="342.70" y="806.00" font-size="8.9" text-anchor="start" dominant-baseline="central" fill="#181818" stroke="#181818" stroke-width="0.18">CHD6-G392V</text>
<text x="380.80" y="862.30" font-size="8.8" text-anchor="middle" dominant-baseline="central" fill="#181818" stroke="#181818" stroke-width="0.18">***</text>
<text x="434.40" y="666.40" font-size="17" font-weight="bold" fill="#111">M</text>
<text x="556.60" y="654.80" font-size="8.6" text-anchor="middle" dominant-baseline="central" fill="#181818" stroke="#181818" stroke-width="0.18">UOK-262</text>
<line x1="501.40" y1="662.40" x2="615.40" y2="662.40" stroke="#333" stroke-width="1"/>
<text x="491.10" y="672.70" font-size="8.4" text-anchor="end" dominant-baseline="central" fill="#181818" stroke="#181818" stroke-width="0.18" letter-spacing="0.3">HA-FH</text>
<text x="491.10" y="687.80" font-size="8.4" text-anchor="end" dominant-baseline="central" fill="#181818" stroke="#181818" stroke-width="0.18" letter-spacing="0.3">Flag-CHD6</text>
<rect x="501.75" y="672.10" width="7.50" height="1.80" fill="#111"/>
<rect x="502.25" y="686.90" width="6.50" height="1.80" fill="#111"/>
<rect x="504.60" y="684.55" width="1.80" height="6.50" fill="#111"/>
<rect x="522.05" y="672.10" width="6.50" height="1.80" fill="#111"/>
<rect x="524.40" y="669.75" width="1.80" height="6.50" fill="#111"/>
<rect x="522.05" y="686.90" width="6.50" height="1.80" fill="#111"/>
<rect x="524.40" y="684.55" width="1.80" height="6.50" fill="#111"/>
<rect x="541.45" y="672.10" width="7.50" height="1.80" fill="#111"/>
<rect x="541.95" y="686.90" width="6.50" height="1.80" fill="#111"/>
<rect x="544.30" y="684.55" width="1.80" height="6.50" fill="#111"/>
<rect x="563.95" y="672.10" width="6.50" height="1.80" fill="#111"/>
<rect x="566.30" y="669.75" width="1.80" height="6.50" fill="#111"/>
<rect x="563.95" y="686.90" width="6.50" height="1.80" fill="#111"/>
<rect x="566.30" y="684.55" width="1.80" height="6.50" fill="#111"/>
<rect x="583.95" y="672.10" width="7.50" height="1.80" fill="#111"/>
<rect x="584.45" y="686.90" width="6.50" height="1.80" fill="#111"/>
<rect x="586.80" y="684.55" width="1.80" height="6.50" fill="#111"/>
<rect x="605.95" y="672.10" width="6.50" height="1.80" fill="#111"/>
<rect x="608.30" y="669.75" width="1.80" height="6.50" fill="#111"/>
<rect x="605.95" y="686.90" width="6.50" height="1.80" fill="#111"/>
<rect x="608.30" y="684.55" width="1.80" height="6.50" fill="#111"/>
<rect x="492.40" y="698.40" width="127.20" height="19.00" fill="#e2e2e4"/>
<g clip-path="none">
<rect x="499.00" y="706.70" width="13.00" height="2.60" rx="1.30" fill="#161616" opacity="0.25" filter="url(#b1)"/>
<rect x="517.00" y="704.50" width="16.00" height="5.00" rx="2.50" fill="#161616" opacity="1.00" filter="url(#b1)"/>
<rect x="540.00" y="706.80" width="11.00" height="2.40" rx="1.20" fill="#161616" opacity="0.12" filter="url(#b1)"/>
<rect x="558.40" y="704.50" width="16.00" height="5.00" rx="2.50" fill="#161616" opacity="1.00" filter="url(#b1)"/>
<rect x="580.50" y="706.80" width="10.00" height="2.40" rx="1.20" fill="#161616" opacity="0.12" filter="url(#b1)"/>
<rect x="599.60" y="704.60" width="16.80" height="4.80" rx="2.40" fill="#161616" opacity="1.00" filter="url(#b1)"/>
</g>
<rect x="492.40" y="698.40" width="127.20" height="19.00" fill="none" stroke="#2e2e2e" stroke-width="1"/>
<rect x="492.40" y="723.00" width="127.20" height="20.00" fill="#dadada"/>
<g clip-path="none">
<rect x="496.00" y="731.00" width="15.60" height="3.20" rx="1.60" fill="#161616" opacity="1.00" filter="url(#b1)"/>
<rect x="515.60" y="731.70" width="15.40" height="2.60" rx="1.30" fill="#161616" opacity="0.45" filter="url(#b1)"/>
<rect x="535.60" y="730.90" width="15.40" height="3.40" rx="1.70" fill="#161616" opacity="1.00" filter="url(#b1)"/>
<rect x="555.60" y="731.10" width="18.00" height="3.40" rx="1.70" fill="#161616" opacity="1.00" filter="url(#b1)"/>
<rect x="577.60" y="731.00" width="16.00" height="3.20" rx="1.60" fill="#161616" opacity="1.00" filter="url(#b1)"/>
<rect x="597.80" y="730.50" width="19.00" height="3.40" rx="1.70" fill="#161616" opacity="1.00" filter="url(#b1)"/>
</g>
<rect x="492.40" y="723.00" width="127.20" height="20.00" fill="none" stroke="#2e2e2e" stroke-width="1"/>
<rect x="492.40" y="747.40" width="127.20" height="19.20" fill="#d4d4d4"/>
<g clip-path="none">
<rect x="494.75" y="755.00" width="18.50" height="4.00" rx="2.00" fill="#161616" opacity="1.00" filter="url(#b1)"/>
<rect x="515.25" y="755.00" width="18.50" height="4.00" rx="2.00" fill="#161616" opacity="1.00" filter="url(#b1)"/>
<rect x="535.75" y="755.00" width="18.50" height="4.00" rx="2.00" fill="#161616" opacity="1.00" filter="url(#b1)"/>
<rect x="556.25" y="755.00" width="18.50" height="4.00" rx="2.00" fill="#161616" opacity="1.00" filter="url(#b1)"/>
<rect x="576.75" y="755.00" width="18.50" height="4.00" rx="2.00" fill="#161616" opacity="1.00" filter="url(#b1)"/>
<rect x="597.75" y="755.00" width="18.50" height="4.00" rx="2.00" fill="#161616" opacity="1.00" filter="url(#b1)"/>
</g>
<rect x="492.40" y="747.40" width="127.20" height="19.20" fill="none" stroke="#2e2e2e" stroke-width="1"/>
<text x="624.90" y="708.00" font-size="8.6" text-anchor="start" dominant-baseline="central" fill="#181818" stroke="#181818" stroke-width="0.18" letter-spacing="0.2">anti-HA</text>
<text x="624.90" y="733.20" font-size="8.6" text-anchor="start" dominant-baseline="central" fill="#181818" stroke="#181818" stroke-width="0.18" letter-spacing="0.2">anti-Flag</text>
<text x="624.90" y="757.50" font-size="8.6" text-anchor="start" dominant-baseline="central" fill="#181818" stroke="#181818" stroke-width="0.18" letter-spacing="0.2">GAPDH</text>
<polyline points="504.00,772.40 504.00,779.00 529.60,779.00 529.60,772.40" stroke="#333" stroke-width="1" fill="none"/>
<text x="513.60" y="790.30" font-size="9.4" text-anchor="middle" dominant-baseline="central" fill="#111" stroke="#111" stroke-width="0.18">WT</text>
<polyline points="544.00,772.40 544.00,779.00 569.60,779.00 569.60,772.40" stroke="#333" stroke-width="1" fill="none"/>
<text x="553.60" y="790.30" font-size="9.4" text-anchor="middle" dominant-baseline="central" fill="#111" stroke="#111" stroke-width="0.18">ΔETGE</text>
<polyline points="584.40,772.40 584.40,779.00 610.00,779.00 610.00,772.40" stroke="#333" stroke-width="1" fill="none"/>
<text x="599.20" y="790.30" font-size="9.4" text-anchor="middle" dominant-baseline="central" fill="#111" stroke="#111" stroke-width="0.18">G392V</text>
<line x1="492.70" y1="797.00" x2="492.70" y2="896.60" stroke="#333" stroke-width="1"/>
<line x1="492.70" y1="896.60" x2="621.60" y2="896.60" stroke="#333" stroke-width="1"/>
<line x1="490.30" y1="797.00" x2="492.70" y2="797.00" stroke="#333" stroke-width="1"/>
<text x="486.00" y="797.00" font-size="7.4" text-anchor="end" dominant-baseline="central" fill="#181818" stroke="#181818" stroke-width="0.18" letter-spacing="0.4">1.5</text>
<line x1="490.30" y1="830.20" x2="492.70" y2="830.20" stroke="#333" stroke-width="1"/>
<text x="486.00" y="830.20" font-size="7.4" text-anchor="end" dominant-baseline="central" fill="#181818" stroke="#181818" stroke-width="0.18" letter-spacing="0.4">1.0</text>
<line x1="490.30" y1="863.40" x2="492.70" y2="863.40" stroke="#333" stroke-width="1"/>
<text x="486.00" y="863.40" font-size="7.4" text-anchor="end" dominant-baseline="central" fill="#181818" stroke="#181818" stroke-width="0.18" letter-spacing="0.4">0.5</text>
<line x1="490.30" y1="896.60" x2="492.70" y2="896.60" stroke="#333" stroke-width="1"/>
<text x="486.00" y="896.60" font-size="7.4" text-anchor="end" dominant-baseline="central" fill="#181818" stroke="#181818" stroke-width="0.18" letter-spacing="0.4">0.0</text>
<text x="461.50" y="848.40" font-size="8.7" text-anchor="middle" dominant-baseline="central" fill="#181818" stroke="#181818" stroke-width="0.18" transform="rotate(-90 461.5 848.4)">relative CHD6 mRNA</text>
<rect x="500.40" y="830.20" width="13.20" height="66.40" fill="#fff" stroke="#222" stroke-width="1.1"/>
<line x1="507.00" y1="827.54" x2="507.00" y2="832.86" stroke="#111" stroke-width="0.9"/>
<line x1="504.00" y1="827.54" x2="510.00" y2="827.54" stroke="#111" stroke-width="0.9"/>
<line x1="504.00" y1="832.86" x2="510.00" y2="832.86" stroke="#111" stroke-width="0.9"/>
<circle cx="505.00" cy="826.50" r="2.5" fill="#111"/>
<circle cx="511.00" cy="826.50" r="2.5" fill="#111"/>
<circle cx="505.00" cy="830.00" r="2.5" fill="#111"/>
<circle cx="511.50" cy="830.00" r="2.5" fill="#111"/>
<circle cx="508.00" cy="833.50" r="2.5" fill="#111"/>
<rect x="518.40" y="832.86" width="13.90" height="63.74" fill="#fff" stroke="#eaa47a" stroke-width="1.1"/>
<line x1="525.35" y1="822.90" x2="525.35" y2="842.82" stroke="#e87425" stroke-width="0.9"/>
<line x1="522.35" y1="822.90" x2="528.35" y2="822.90" stroke="#e87425" stroke-width="0.9"/>
<line x1="522.35" y1="842.82" x2="528.35" y2="842.82" stroke="#e87425" stroke-width="0.9"/>
<circle cx="525.00" cy="820.50" r="2.5" fill="#e87425"/>
<circle cx="520.50" cy="830.00" r="2.5" fill="#e87425"/>
<circle cx="530.00" cy="830.00" r="2.5" fill="#e87425"/>
<circle cx="524.50" cy="836.00" r="2.5" fill="#e87425"/>
<circle cx="525.00" cy="847.00" r="2.5" fill="#e87425"/>
<rect x="540.70" y="832.19" width="13.20" height="64.41" fill="#fff" stroke="#222" stroke-width="1.1"/>
<line x1="547.30" y1="825.55" x2="547.30" y2="838.83" stroke="#111" stroke-width="0.9"/>
<line x1="544.30" y1="825.55" x2="550.30" y2="825.55" stroke="#111" stroke-width="0.9"/>
<line x1="544.30" y1="838.83" x2="550.30" y2="838.83" stroke="#111" stroke-width="0.9"/>
<circle cx="541.50" cy="823.50" r="2.5" fill="#111"/>
<circle cx="549.50" cy="825.00" r="2.5" fill="#111"/>
<circle cx="545.50" cy="831.00" r="2.5" fill="#111"/>
<circle cx="543.50" cy="836.50" r="2.5" fill="#111"/>
<circle cx="549.00" cy="837.00" r="2.5" fill="#111"/>
<rect x="558.00" y="831.53" width="14.40" height="65.07" fill="#fff" stroke="#eaa47a" stroke-width="1.1"/>
<line x1="565.20" y1="826.22" x2="565.20" y2="836.84" stroke="#e87425" stroke-width="0.9"/>
<line x1="562.20" y1="826.22" x2="568.20" y2="826.22" stroke="#e87425" stroke-width="0.9"/>
<line x1="562.20" y1="836.84" x2="568.20" y2="836.84" stroke="#e87425" stroke-width="0.9"/>
<circle cx="559.50" cy="825.00" r="2.5" fill="#e87425"/>
<circle cx="570.00" cy="825.00" r="2.5" fill="#e87425"/>
<circle cx="564.50" cy="831.00" r="2.5" fill="#e87425"/>
<circle cx="570.00" cy="832.50" r="2.5" fill="#e87425"/>
<circle cx="564.50" cy="843.00" r="2.5" fill="#e87425"/>
<rect x="580.80" y="834.18" width="13.20" height="62.42" fill="#fff" stroke="#222" stroke-width="1.1"/>
<line x1="587.40" y1="828.21" x2="587.40" y2="840.16" stroke="#111" stroke-width="0.9"/>
<line x1="584.40" y1="828.21" x2="590.40" y2="828.21" stroke="#111" stroke-width="0.9"/>
<line x1="584.40" y1="840.16" x2="590.40" y2="840.16" stroke="#111" stroke-width="0.9"/>
<circle cx="583.00" cy="838.00" r="2.5" fill="#111"/>
<circle cx="591.50" cy="829.50" r="2.5" fill="#111"/>
<circle cx="586.50" cy="833.00" r="2.5" fill="#111"/>
<circle cx="591.00" cy="836.00" r="2.5" fill="#111"/>
<circle cx="588.00" cy="839.00" r="2.5" fill="#111"/>
<rect x="598.80" y="828.87" width="14.40" height="67.73" fill="#fff" stroke="#eaa47a" stroke-width="1.1"/>
<line x1="606.00" y1="818.25" x2="606.00" y2="839.50" stroke="#e87425" stroke-width="0.9"/>
<line x1="603.00" y1="818.25" x2="609.00" y2="818.25" stroke="#e87425" stroke-width="0.9"/>
<line x1="603.00" y1="839.50" x2="609.00" y2="839.50" stroke="#e87425" stroke-width="0.9"/>
<circle cx="600.50" cy="820.50" r="2.5" fill="#e87425"/>
<circle cx="610.50" cy="820.50" r="2.5" fill="#e87425"/>
<circle cx="604.50" cy="825.00" r="2.5" fill="#e87425"/>
<circle cx="600.50" cy="840.00" r="2.5" fill="#e87425"/>
<circle cx="611.00" cy="840.00" r="2.5" fill="#e87425"/>
<text x="512.90" y="806.60" font-size="8.6" text-anchor="middle" dominant-baseline="central" fill="#181818" stroke="#181818" stroke-width="0.18">ns</text>
<line x1="504.70" y1="814.30" x2="525.60" y2="814.30" stroke="#333" stroke-width="1"/>
<text x="556.80" y="806.60" font-size="8.6" text-anchor="middle" dominant-baseline="central" fill="#181818" stroke="#181818" stroke-width="0.18">ns</text>
<line x1="546.50" y1="814.30" x2="567.10" y2="814.30" stroke="#333" stroke-width="1"/>
<text x="597.60" y="806.60" font-size="8.6" text-anchor="middle" dominant-baseline="central" fill="#181818" stroke="#181818" stroke-width="0.18">ns</text>
<line x1="587.50" y1="814.30" x2="607.90" y2="814.30" stroke="#333" stroke-width="1"/>
<g opacity="0.62">
<ellipse cx="473.6" cy="868.6" rx="6.2" ry="5.4" fill="#9a9a9a"/>
<ellipse cx="479.4" cy="875.4" rx="8.2" ry="6.8" fill="#a4a4a4"/>
<circle cx="476.2" cy="874.6" r="1.0" fill="#e8e8e8"/><circle cx="482.4" cy="874.6" r="1.0" fill="#e8e8e8"/>
<text x="494.0" y="879.6" font-size="20" fill="#9a9a9a" font-family="'Liberation Sans', 'Noto Sans CJK SC', sans-serif">公众号</text>
<text x="566.4" y="879.6" font-size="20" fill="#9a9a9a" text-anchor="middle" font-family="'Liberation Sans', 'Noto Sans CJK SC', sans-serif">·</text>
<text x="580.6" y="880.6" font-size="20" letter-spacing="1.2" fill="#9a9a9a" font-family="'Liberation Sans', 'Noto Sans CJK SC', sans-serif">Hunter-Organs</text>
</g>
</g>
</svg>
</body></html>
